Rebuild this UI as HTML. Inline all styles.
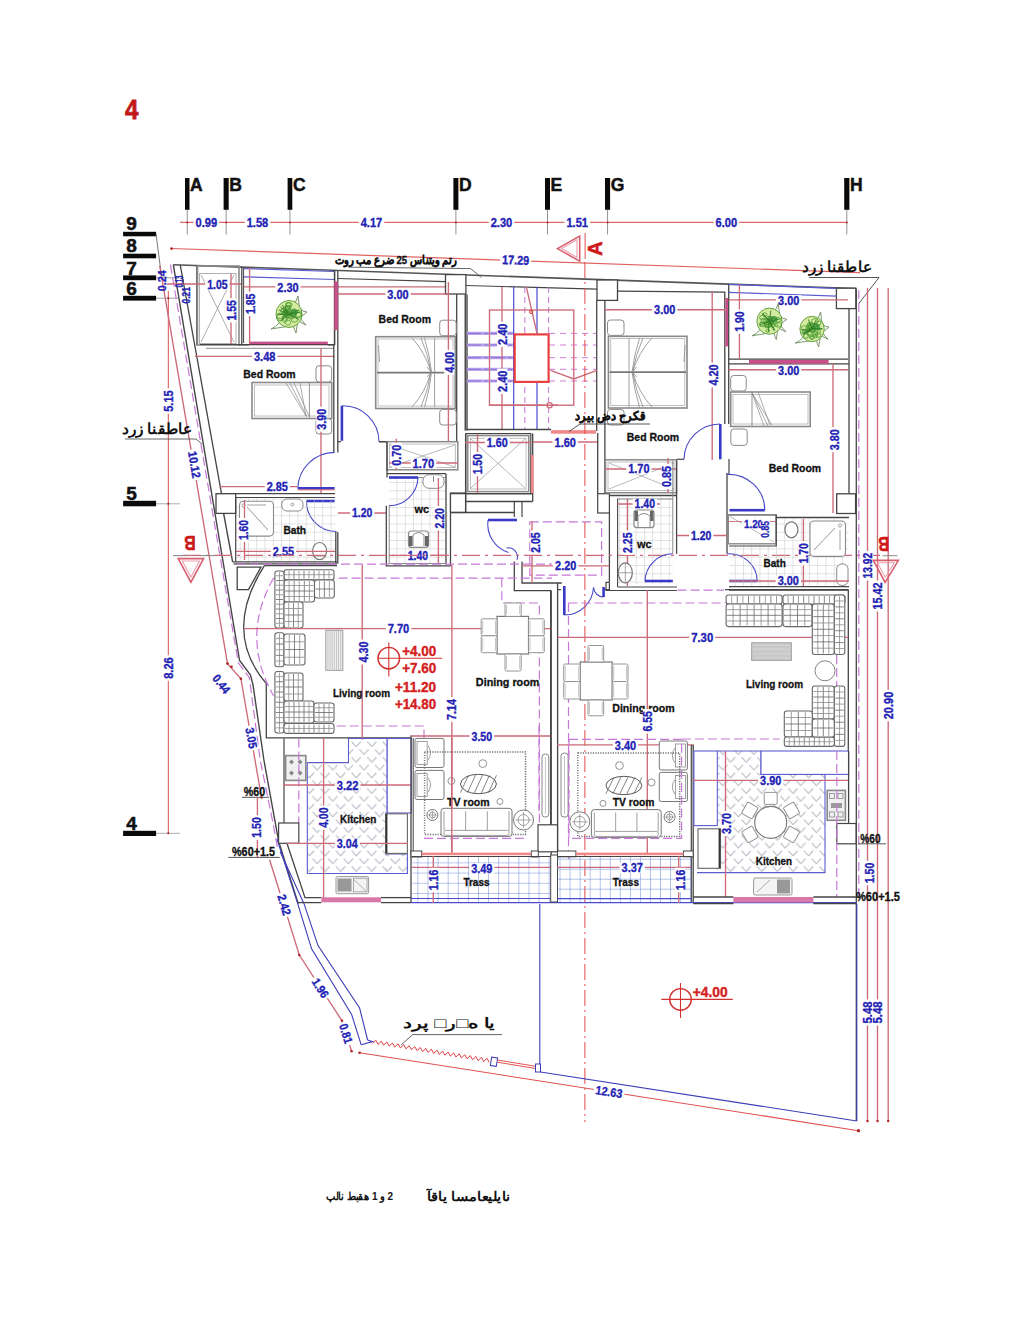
<!DOCTYPE html>
<html><head><meta charset="utf-8"><style>
html,body{margin:0;padding:0;background:#fff;}
svg{display:block;}
</style></head><body>
<svg width="1031" height="1321" viewBox="0 0 1031 1321">
<rect width="1031" height="1321" fill="#fff"/>
<defs>
<pattern id="tile" width="8.25" height="8.3" patternUnits="userSpaceOnUse" x="0.5" y="0.6"><path d="M0 0H8.25M0 0V8.3" stroke="#c6c6c6" stroke-width="1" fill="none"/></pattern>
<pattern id="trass" width="10.1" height="10.2" patternUnits="userSpaceOnUse" x="417.4" y="862.4"><path d="M0 0H10.1M0 0V10.2" stroke="#6a88d8" stroke-width="1" fill="none"/></pattern>
<pattern id="trass2" width="10.05" height="10" patternUnits="userSpaceOnUse" x="569.6" y="858.7"><path d="M0 0H10.05M0 0V10" stroke="#6a88d8" stroke-width="1" fill="none"/></pattern>
<pattern id="chev" width="15.6" height="15.6" patternUnits="userSpaceOnUse"><path d="M0.6 0.6L5.2 5.6L9.8 0.6M8.4 8.4L13 13.4L17.6 8.4M-7.2 8.4L-2.6 13.4L2 8.4" stroke="#b4b4c2" stroke-width="1.05" fill="none"/></pattern>
</defs>
<text x="125" y="119.1" font-family="Liberation Sans, sans-serif" font-size="27.6" font-weight="bold" fill="#c01818" text-anchor="start" textLength="13.4" lengthAdjust="spacingAndGlyphs" stroke="#c01818" stroke-width="0.77">4</text>
<rect x="185.0" y="178" width="4.5" height="31.8" fill="#0a0a0a"/>
<text x="190.1" y="191.3" font-family="Liberation Sans, sans-serif" font-size="17.5" font-weight="bold" fill="#111" text-anchor="start" stroke="#111" stroke-width="0.49">A</text>
<line x1="187.25" y1="209.8" x2="187.25" y2="234.5" stroke="#777" stroke-width="0.8"/>
<rect x="223.6" y="178" width="5.099999999999994" height="31.8" fill="#0a0a0a"/>
<text x="229.29999999999998" y="191.3" font-family="Liberation Sans, sans-serif" font-size="17.5" font-weight="bold" fill="#111" text-anchor="start" stroke="#111" stroke-width="0.49">B</text>
<line x1="226.14999999999998" y1="209.8" x2="226.14999999999998" y2="234.5" stroke="#777" stroke-width="0.8"/>
<rect x="287.6" y="178" width="4.699999999999989" height="31.8" fill="#0a0a0a"/>
<text x="292.90000000000003" y="191.3" font-family="Liberation Sans, sans-serif" font-size="17.5" font-weight="bold" fill="#111" text-anchor="start" stroke="#111" stroke-width="0.49">C</text>
<line x1="289.95000000000005" y1="209.8" x2="289.95000000000005" y2="234.5" stroke="#777" stroke-width="0.8"/>
<rect x="453.4" y="178" width="5.0" height="31.8" fill="#0a0a0a"/>
<text x="459.0" y="191.3" font-family="Liberation Sans, sans-serif" font-size="17.5" font-weight="bold" fill="#111" text-anchor="start" stroke="#111" stroke-width="0.49">D</text>
<line x1="455.9" y1="209.8" x2="455.9" y2="234.5" stroke="#777" stroke-width="0.8"/>
<rect x="545.0" y="178" width="5.0" height="31.8" fill="#0a0a0a"/>
<text x="550.6" y="191.3" font-family="Liberation Sans, sans-serif" font-size="17.5" font-weight="bold" fill="#111" text-anchor="start" stroke="#111" stroke-width="0.49">E</text>
<line x1="547.5" y1="209.8" x2="547.5" y2="234.5" stroke="#777" stroke-width="0.8"/>
<rect x="605.0" y="178" width="5.100000000000023" height="31.8" fill="#0a0a0a"/>
<text x="610.7" y="191.3" font-family="Liberation Sans, sans-serif" font-size="17.5" font-weight="bold" fill="#111" text-anchor="start" stroke="#111" stroke-width="0.49">G</text>
<line x1="607.55" y1="209.8" x2="607.55" y2="234.5" stroke="#777" stroke-width="0.8"/>
<rect x="844.2" y="178" width="5.199999999999932" height="31.8" fill="#0a0a0a"/>
<text x="850.0" y="191.3" font-family="Liberation Sans, sans-serif" font-size="17.5" font-weight="bold" fill="#111" text-anchor="start" stroke="#111" stroke-width="0.49">H</text>
<line x1="846.8" y1="209.8" x2="846.8" y2="234.5" stroke="#777" stroke-width="0.8"/>
<line x1="180" y1="222.4" x2="846.5" y2="222.4" stroke="#e06868" stroke-width="1.3"/>
<circle cx="187.25" cy="222.4" r="1" fill="#b03030"/>
<circle cx="226.14999999999998" cy="222.4" r="1" fill="#b03030"/>
<circle cx="289.95000000000005" cy="222.4" r="1" fill="#b03030"/>
<circle cx="455.9" cy="222.4" r="1" fill="#b03030"/>
<circle cx="547.5" cy="222.4" r="1" fill="#b03030"/>
<circle cx="607.55" cy="222.4" r="1" fill="#b03030"/>
<circle cx="846.8" cy="222.4" r="1" fill="#b03030"/>
<rect x="193.5" y="217.17600000000002" width="25.6" height="10.248" fill="#fff"/>
<text x="206.3" y="226.67" font-family="Liberation Sans, sans-serif" font-size="12.2" font-weight="bold" fill="#2222b4" text-anchor="middle" textLength="21.6" lengthAdjust="spacingAndGlyphs" stroke="#2222b4" stroke-width="0.34">0.99</text>
<rect x="244.7" y="217.17600000000002" width="25.6" height="10.248" fill="#fff"/>
<text x="257.5" y="226.67" font-family="Liberation Sans, sans-serif" font-size="12.2" font-weight="bold" fill="#2222b4" text-anchor="middle" textLength="21.6" lengthAdjust="spacingAndGlyphs" stroke="#2222b4" stroke-width="0.34">1.58</text>
<rect x="358.7" y="217.17600000000002" width="25.6" height="10.248" fill="#fff"/>
<text x="371.5" y="226.67" font-family="Liberation Sans, sans-serif" font-size="12.2" font-weight="bold" fill="#2222b4" text-anchor="middle" textLength="21.6" lengthAdjust="spacingAndGlyphs" stroke="#2222b4" stroke-width="0.34">4.17</text>
<rect x="488.7" y="217.17600000000002" width="25.6" height="10.248" fill="#fff"/>
<text x="501.5" y="226.67" font-family="Liberation Sans, sans-serif" font-size="12.2" font-weight="bold" fill="#2222b4" text-anchor="middle" textLength="21.6" lengthAdjust="spacingAndGlyphs" stroke="#2222b4" stroke-width="0.34">2.30</text>
<rect x="564.4000000000001" y="217.17600000000002" width="25.6" height="10.248" fill="#fff"/>
<text x="577.2" y="226.67" font-family="Liberation Sans, sans-serif" font-size="12.2" font-weight="bold" fill="#2222b4" text-anchor="middle" textLength="21.6" lengthAdjust="spacingAndGlyphs" stroke="#2222b4" stroke-width="0.34">1.51</text>
<rect x="713.6" y="217.17600000000002" width="25.6" height="10.248" fill="#fff"/>
<text x="726.4" y="226.67" font-family="Liberation Sans, sans-serif" font-size="12.2" font-weight="bold" fill="#2222b4" text-anchor="middle" textLength="21.6" lengthAdjust="spacingAndGlyphs" stroke="#2222b4" stroke-width="0.34">6.00</text>
<text x="126.3" y="230.2" font-family="Liberation Sans, sans-serif" font-size="19" font-weight="bold" fill="#111" text-anchor="start" stroke="#111" stroke-width="0.53">9</text>
<rect x="123.1" y="231.8" width="33" height="4.5" fill="#0a0a0a"/>
<text x="126.3" y="252.0" font-family="Liberation Sans, sans-serif" font-size="19" font-weight="bold" fill="#111" text-anchor="start" stroke="#111" stroke-width="0.53">8</text>
<rect x="123.1" y="253.7" width="33" height="4.6" fill="#0a0a0a"/>
<text x="126.3" y="274.5" font-family="Liberation Sans, sans-serif" font-size="19" font-weight="bold" fill="#111" text-anchor="start" stroke="#111" stroke-width="0.53">7</text>
<rect x="123.1" y="275.4" width="33" height="4.8" fill="#0a0a0a"/>
<text x="126.3" y="295.0" font-family="Liberation Sans, sans-serif" font-size="19" font-weight="bold" fill="#111" text-anchor="start" stroke="#111" stroke-width="0.53">6</text>
<rect x="123.1" y="295.8" width="33" height="4.8" fill="#0a0a0a"/>
<text x="126.3" y="499.6" font-family="Liberation Sans, sans-serif" font-size="19" font-weight="bold" fill="#111" text-anchor="start" stroke="#111" stroke-width="0.53">5</text>
<rect x="123.1" y="500.8" width="33" height="5.5" fill="#0a0a0a"/>
<text x="126.3" y="829.5" font-family="Liberation Sans, sans-serif" font-size="19" font-weight="bold" fill="#111" text-anchor="start" stroke="#111" stroke-width="0.53">4</text>
<rect x="123.1" y="830.8" width="33" height="5.2" fill="#0a0a0a"/>
<line x1="156" y1="277.8" x2="178" y2="277.8" stroke="#888" stroke-width="0.8"/>
<line x1="156" y1="298.2" x2="178" y2="298.2" stroke="#888" stroke-width="0.8"/>
<line x1="156" y1="503.8" x2="180" y2="503.8" stroke="#999" stroke-width="0.8"/>
<line x1="156" y1="833.3" x2="180" y2="833.3" stroke="#999" stroke-width="0.8"/>
<line x1="156" y1="234" x2="162" y2="280" stroke="#555" stroke-width="0.8"/>
<line x1="168.3" y1="291" x2="168.3" y2="833.3" stroke="#d85050" stroke-width="1"/>
<circle cx="168.3" cy="298.2" r="1" fill="#a02020"/>
<circle cx="168.3" cy="503.8" r="1" fill="#a02020"/>
<circle cx="168.3" cy="833.3" r="1" fill="#a02020"/>
<g transform="translate(168.3 401) rotate(-90)">
<rect x="-12.8" y="-5.124" width="25.6" height="10.248" fill="#fff"/>
<text x="0" y="4.37" font-family="Liberation Sans, sans-serif" font-size="12.2" font-weight="bold" fill="#2222b4" text-anchor="middle" textLength="21.6" lengthAdjust="spacingAndGlyphs" stroke="#2222b4" stroke-width="0.34">5.15</text>
</g>
<g transform="translate(168.3 668) rotate(-90)">
<rect x="-12.8" y="-5.124" width="25.6" height="10.248" fill="#fff"/>
<text x="0" y="4.37" font-family="Liberation Sans, sans-serif" font-size="12.2" font-weight="bold" fill="#2222b4" text-anchor="middle" textLength="21.6" lengthAdjust="spacingAndGlyphs" stroke="#2222b4" stroke-width="0.34">8.26</text>
</g>
<polygon points="557.4,248.6 579.7,236 579.7,261.2" stroke="#d86070" stroke-width="1.6" fill="none"/>
<polygon points="561.5,248.6 577,239.8 577,257.4" stroke="#f0a0b0" stroke-width="1.1" fill="none"/>
<line x1="585.1" y1="233" x2="585.1" y2="259" stroke="#e05050" stroke-width="1"/>
<text x="602.3" y="248.4" font-family="Liberation Sans, sans-serif" font-size="20" font-weight="bold" fill="#d01818" text-anchor="middle" transform="rotate(-90 602.3 248.4)" stroke="#d01818" stroke-width="0.56">A</text>
<line x1="171" y1="248.5" x2="860" y2="272.6" stroke="#e06060" stroke-width="1.2"/>
<circle cx="171.5" cy="248.6" r="1.3" fill="#b02020"/>
<g transform="rotate(2 515.6 260)">
<rect x="500.1" y="254.708" width="31" height="10.584" fill="#fff"/>
<text x="515.6" y="264.51" font-family="Liberation Sans, sans-serif" font-size="12.6" font-weight="bold" fill="#2222b4" text-anchor="middle" textLength="27" lengthAdjust="spacingAndGlyphs" stroke="#2222b4" stroke-width="0.35">17.29</text>
</g>
<polyline points="159.7,265.7 227.5,663.6 240.9,678.7 261.5,797.5" stroke="#cc6a78" stroke-width="1.35" fill="none"/>
<circle cx="261.5" cy="797.5" r="1.3" fill="#b02020"/>
<circle cx="227.5" cy="663.6" r="1.3" fill="#b02020"/>
<circle cx="231.5" cy="666.8" r="1.3" fill="#b02020"/>
<circle cx="240.9" cy="678.7" r="1.3" fill="#b02020"/>
<polyline points="269.6,859.7 299.3,955 342,1020.8 351.6,1051.3" stroke="#cc6a78" stroke-width="1.35" fill="none"/>
<circle cx="299.3" cy="955" r="1.2" fill="#b02020"/>
<circle cx="342" cy="1020.8" r="1.2" fill="#b02020"/>
<circle cx="351.6" cy="1051.3" r="1.2" fill="#b02020"/>
<polyline points="170.4,264.7 227.5,600 238.4,663 249.3,677.5 260.2,760 272.8,822 278,850.7" stroke="#c878d8" stroke-width="1.2" fill="none" stroke-dasharray="9 4"/>
<polyline points="173.3,264.7 239.6,660.5 250.5,675 253,684.8 263.9,760 278.6,841.2 298.2,903.7" stroke="#454545" stroke-width="1.4" fill="none"/>
<polyline points="180.2,264.7 221.5,493.7" stroke="#454545" stroke-width="1.3" fill="none"/>
<polyline points="223.6,513.4 232.6,561.8" stroke="#454545" stroke-width="1.4" fill="none"/>
<polyline points="277,839 297.7,903.7 311.6,948.8 351.6,1014.4 361.2,1044.8" stroke="#3c3cb8" stroke-width="1.1" fill="none"/>
<polyline points="280.2,851.8 304,903.7 318,945.6 359.6,1008 367.6,1040" stroke="#3c3cb8" stroke-width="1.1" fill="none"/>
<polyline points="361.2,1044.8 372.4,1041.6 367.6,1040" stroke="#3c3cb8" stroke-width="1.1" fill="none"/>
<polyline points="173.3,264.7 856,288.59" stroke="#555" stroke-width="1.6" fill="none"/>
<line x1="196.8" y1="265.5" x2="196.8" y2="345.2" stroke="#444" stroke-width="1.2"/>
<rect x="197.5" y="266" width="41.5" height="79" stroke="#8a8a8a" stroke-width="1.6" fill="none"/>
<rect x="199.5" y="273.5" width="36.5" height="70" stroke="#b0b0b0" stroke-width="1" fill="none"/>
<line x1="201" y1="275" x2="234" y2="342" stroke="#8a8a8a" stroke-width="0.7"/>
<line x1="234" y1="275" x2="201" y2="342" stroke="#8a8a8a" stroke-width="0.7"/>
<line x1="231" y1="274" x2="231" y2="344" stroke="#cc6a78" stroke-width="1.35"/>
<line x1="167" y1="284" x2="242" y2="284" stroke="#cc6a78" stroke-width="1.35"/>
<rect x="205.15" y="279.56" width="24.5" height="10.08" fill="#fff"/>
<text x="217.4" y="288.9" font-family="Liberation Sans, sans-serif" font-size="12" font-weight="bold" fill="#2222b4" text-anchor="middle" textLength="20.5" lengthAdjust="spacingAndGlyphs" stroke="#2222b4" stroke-width="0.34">1.05</text>
<g transform="translate(231.2 310.3) rotate(-90)">
<rect x="-12.25" y="-5.04" width="24.5" height="10.08" fill="#fff"/>
<text x="0" y="4.3" font-family="Liberation Sans, sans-serif" font-size="12" font-weight="bold" fill="#2222b4" text-anchor="middle" textLength="20.5" lengthAdjust="spacingAndGlyphs" stroke="#2222b4" stroke-width="0.34">1.55</text>
</g>
<g transform="translate(161.4 280.7) rotate(-90)">
<text x="0" y="4.12" font-family="Liberation Sans, sans-serif" font-size="11.5" font-weight="bold" fill="#2222b4" text-anchor="middle" textLength="21" lengthAdjust="spacingAndGlyphs" stroke="#2222b4" stroke-width="0.32">0.24</text>
</g>
<g transform="translate(179.3 281.5) rotate(-90)">
<text x="0" y="3.76" font-family="Liberation Sans, sans-serif" font-size="10.5" font-weight="bold" fill="#2222b4" text-anchor="middle" textLength="12" lengthAdjust="spacingAndGlyphs" stroke="#2222b4" stroke-width="0.29">0.13</text>
</g>
<g transform="translate(186 295.3) rotate(-90)">
<text x="0" y="3.94" font-family="Liberation Sans, sans-serif" font-size="11" font-weight="bold" fill="#2222b4" text-anchor="middle" textLength="16.5" lengthAdjust="spacingAndGlyphs" stroke="#2222b4" stroke-width="0.31">0.21</text>
</g>
<line x1="241.8" y1="266.5" x2="241.8" y2="345" stroke="#454545" stroke-width="1.3"/>
<line x1="243.6" y1="268" x2="243.6" y2="343" stroke="#454545" stroke-width="1"/>
<line x1="243.6" y1="268.6" x2="334" y2="271.5" stroke="#5a5ad0" stroke-width="1.2"/>
<line x1="243.6" y1="276.8" x2="334" y2="279.5" stroke="#5a5ad0" stroke-width="1.2"/>
<line x1="238.6" y1="345" x2="249.2" y2="345" stroke="#454545" stroke-width="1.3"/>
<rect x="249.2" y="341.6" width="78.6" height="3.8" fill="#c8508a"/>
<line x1="327.8" y1="345" x2="335" y2="345" stroke="#454545" stroke-width="1.3"/>
<rect x="334.6" y="282" width="3" height="47.5" fill="#c8508a"/>
<line x1="334.6" y1="270.5" x2="334.6" y2="345" stroke="#454545" stroke-width="1.3"/>
<line x1="249.6" y1="268" x2="249.6" y2="345" stroke="#cc6a78" stroke-width="1.35"/>
<line x1="243.6" y1="286.9" x2="460" y2="286.9" stroke="#cc6a78" stroke-width="1.35"/>
<rect x="275.35" y="282.676" width="25.3" height="10.248" fill="#fff"/>
<text x="288" y="292.17" font-family="Liberation Sans, sans-serif" font-size="12.2" font-weight="bold" fill="#2222b4" text-anchor="middle" textLength="21.3" lengthAdjust="spacingAndGlyphs" stroke="#2222b4" stroke-width="0.34">2.30</text>
<g transform="translate(250.2 303.8) rotate(-90)">
<rect x="-12.25" y="-5.04" width="24.5" height="10.08" fill="#fff"/>
<text x="0" y="4.3" font-family="Liberation Sans, sans-serif" font-size="12" font-weight="bold" fill="#2222b4" text-anchor="middle" textLength="20.5" lengthAdjust="spacingAndGlyphs" stroke="#2222b4" stroke-width="0.34">1.85</text>
</g>
<path d="M280.0 322.0 Q275.5 327.5 271.0 329.0 Q280.5 327.5 290.0 326.0" fill="#fafcf6" stroke="#6f8a60" stroke-width="0.9"/>
<path d="M294.0 304.0 Q296.0 302.0 298.0 296.0 Q299.0 304.0 300.0 312.0" fill="#fafcf6" stroke="#6f8a60" stroke-width="0.9"/>
<path d="M298.0 314.0 Q302.0 321.5 306.0 325.0 Q303.0 323.5 300.0 322.0" fill="#fafcf6" stroke="#6f8a60" stroke-width="0.9"/>
<path d="M293.0 324.0 Q294.5 330.5 296.0 333.0 Q297.0 326.5 298.0 320.0" fill="#fafcf6" stroke="#6f8a60" stroke-width="0.9"/>
<path d="M299.0 308.0 Q303.0 312.0 307.0 312.0 Q304.5 314.0 302.0 316.0" fill="#fafcf6" stroke="#6f8a60" stroke-width="0.9"/>
<ellipse cx="289.0" cy="314.0" rx="13.0" ry="13.5" fill="#d4eba0" stroke="#5a9a3a" stroke-width="0.9"/>
<path d="M285.4 315.5a3.3 2.6 0 1 0 6.6 0a3.3 2.6 0 1 0 -6.6 0M276.7 317.1a3.6 2.8 0 1 0 7.1 0a3.6 2.8 0 1 0 -7.1 0M285.5 307.7a2.6 2.1 0 1 0 5.3 0a2.6 2.1 0 1 0 -5.3 0M285.2 313.6a2.6 2.1 0 1 0 5.2 0a2.6 2.1 0 1 0 -5.2 0M276.7 315.9a3.4 2.7 0 1 0 6.9 0a3.4 2.7 0 1 0 -6.9 0M285.4 307.5a2.5 2.0 0 1 0 5.1 0a2.5 2.0 0 1 0 -5.1 0M282.8 313.1a2.8 2.2 0 1 0 5.6 0a2.8 2.2 0 1 0 -5.6 0M286.1 305.0a3.0 2.4 0 1 0 6.0 0a3.0 2.4 0 1 0 -6.0 0M280.6 310.6a3.0 2.4 0 1 0 6.0 0a3.0 2.4 0 1 0 -6.0 0M282.8 309.0a3.3 2.7 0 1 0 6.6 0a3.3 2.7 0 1 0 -6.6 0M294.4 315.2a3.5 2.8 0 1 0 7.1 0a3.5 2.8 0 1 0 -7.1 0M282.9 313.7a3.6 2.9 0 1 0 7.1 0a3.6 2.9 0 1 0 -7.1 0M285.3 322.6a2.7 2.1 0 1 0 5.3 0a2.7 2.1 0 1 0 -5.3 0M291.2 319.5a3.2 2.6 0 1 0 6.5 0a3.2 2.6 0 1 0 -6.5 0M284.2 314.2a3.6 2.8 0 1 0 7.1 0a3.6 2.8 0 1 0 -7.1 0M295.4 313.9a3.1 2.5 0 1 0 6.1 0a3.1 2.5 0 1 0 -6.1 0M284.6 310.0a2.9 2.3 0 1 0 5.8 0a2.9 2.3 0 1 0 -5.8 0M290.2 314.8a2.9 2.4 0 1 0 5.9 0a2.9 2.4 0 1 0 -5.9 0M288.6 317.0a2.6 2.1 0 1 0 5.3 0a2.6 2.1 0 1 0 -5.3 0M285.6 305.0a2.5 2.0 0 1 0 4.9 0a2.5 2.0 0 1 0 -4.9 0M282.3 318.0a2.4 1.9 0 1 0 4.7 0a2.4 1.9 0 1 0 -4.7 0M283.2 312.2a2.6 2.1 0 1 0 5.3 0a2.6 2.1 0 1 0 -5.3 0M282.1 319.8a2.6 2.0 0 1 0 5.1 0a2.6 2.0 0 1 0 -5.1 0M284.8 314.1a2.1 1.7 0 1 0 4.2 0a2.1 1.7 0 1 0 -4.2 0M290.4 313.3a3.0 2.4 0 1 0 5.9 0a3.0 2.4 0 1 0 -5.9 0M284.8 311.9a3.4 2.7 0 1 0 6.8 0a3.4 2.7 0 1 0 -6.8 0" fill="none" stroke="#4a9a30" stroke-width="0.8"/>
<path d="M289.0 314.0L278.0 314.8M289.0 314.0L298.5 319.6M289.0 314.0L299.9 312.4M289.0 314.0L280.5 321.0M289.0 314.0L278.8 310.0M289.0 314.0L280.4 307.1M289.0 314.0L282.3 305.2M289.0 314.0L299.2 309.8" fill="none" stroke="#2f7a25" stroke-width="0.9"/>
<circle cx="294.0" cy="312.0" r="3.5" fill="#2f8a30" opacity="0.7"/>
<line x1="200" y1="344.5" x2="334" y2="344.5" stroke="#454545" stroke-width="1.2"/>
<line x1="206" y1="348.3" x2="334" y2="348.3" stroke="#8a8a8a" stroke-width="1"/>
<line x1="194.9" y1="356.3" x2="334.6" y2="356.3" stroke="#cc6a78" stroke-width="1.35"/>
<rect x="252.0" y="351.57599999999996" width="25.4" height="10.248" fill="#fff"/>
<text x="264.7" y="361.07" font-family="Liberation Sans, sans-serif" font-size="12.2" font-weight="bold" fill="#2222b4" text-anchor="middle" textLength="21.4" lengthAdjust="spacingAndGlyphs" stroke="#2222b4" stroke-width="0.34">3.48</text>
<text x="269.5" y="378" font-family="Liberation Sans, sans-serif" font-size="11.8" font-weight="bold" fill="#111" text-anchor="middle" textLength="52.4" lengthAdjust="spacingAndGlyphs" stroke="#111" stroke-width="0.33">Bed Room</text>
<rect x="252" y="382.5" width="79.7" height="36" stroke="#8a8a8a" stroke-width="1.6" fill="none"/>
<rect x="254.5" y="385" width="74.5" height="31" stroke="#b0b0b0" stroke-width="0.8" fill="none"/>
<line x1="309.4" y1="383" x2="309.4" y2="418" stroke="#8a8a8a" stroke-width="0.9"/>
<path d="M286 383 L306 416 M290 383 L307 417 M294 383 L309 416 M300 383 L306 416" stroke="#8a8a8a" stroke-width="0.7" fill="none"/>
<rect x="316" y="365.8" width="15.7" height="16.2" stroke="#8a8a8a" stroke-width="1" fill="#fff" rx="3"/>
<rect x="316" y="418.8" width="15.7" height="15.2" stroke="#8a8a8a" stroke-width="1" fill="#fff" rx="3"/>
<line x1="321" y1="348" x2="321" y2="493" stroke="#cc6a78" stroke-width="1.35"/>
<g transform="translate(321.4 419.2) rotate(-90)">
<rect x="-12.5" y="-5.04" width="25" height="10.08" fill="#fff"/>
<text x="0" y="4.3" font-family="Liberation Sans, sans-serif" font-size="12" font-weight="bold" fill="#2222b4" text-anchor="middle" textLength="21" lengthAdjust="spacingAndGlyphs" stroke="#2222b4" stroke-width="0.34">3.90</text>
</g>
<line x1="333.8" y1="344.5" x2="333.8" y2="452.4" stroke="#454545" stroke-width="1.3"/>
<line x1="337.8" y1="270.7" x2="337.8" y2="452.4" stroke="#454545" stroke-width="1.3"/>
<line x1="334.5" y1="270.7" x2="334.5" y2="344.5" stroke="#454545" stroke-width="1.3"/>
<polyline points="337.8,278.5 445.5,281.6" stroke="#454545" stroke-width="1.2" fill="none"/>
<rect x="334.3" y="281.4" width="3.6" height="48.6" fill="#c8508a"/>
<rect x="445.5" y="274.6" width="20.4" height="19.4" stroke="#454545" stroke-width="1.3" fill="#fff"/>
<line x1="456.7" y1="294" x2="456.7" y2="441.7" stroke="#454545" stroke-width="1.3"/>
<line x1="465.9" y1="294" x2="465.9" y2="430.4" stroke="#454545" stroke-width="1.3"/>
<line x1="337.8" y1="294" x2="447.4" y2="294" stroke="#cc6a78" stroke-width="1.35"/>
<rect x="385.35" y="289.376" width="25.3" height="10.248" fill="#fff"/>
<text x="398" y="298.87" font-family="Liberation Sans, sans-serif" font-size="12.2" font-weight="bold" fill="#2222b4" text-anchor="middle" textLength="21.3" lengthAdjust="spacingAndGlyphs" stroke="#2222b4" stroke-width="0.34">3.00</text>
<text x="404.8" y="323.1" font-family="Liberation Sans, sans-serif" font-size="11.8" font-weight="bold" fill="#111" text-anchor="middle" textLength="52.4" lengthAdjust="spacingAndGlyphs" stroke="#111" stroke-width="0.33">Bed Room</text>
<rect x="375.7" y="336.7" width="79.5" height="71.8" stroke="#8a8a8a" stroke-width="1.6" fill="none"/>
<rect x="378" y="339" width="75" height="67" stroke="#b0b0b0" stroke-width="0.8" fill="none"/>
<line x1="377" y1="372.6" x2="454.5" y2="372.6" stroke="#777" stroke-width="1.7"/>
<line x1="434.6" y1="338" x2="434.6" y2="407" stroke="#8a8a8a" stroke-width="0.8"/>
<path d="M412 338 Q425 352 431 372 M421 338 Q428 354 431 372 M424.5 338 Q430 356 431.5 372 M412 407 Q425 393 431 372 M421 407 Q428 391 431 372 M424.5 407 Q430 389 431.5 372 M378.5 345 L379.5 362 M427 367 L431 372 L427 377" stroke="#8a8a8a" stroke-width="0.8" fill="none"/>
<rect x="439.7" y="320.2" width="16.5" height="15.5" stroke="#8a8a8a" stroke-width="1" fill="#fff" rx="3"/>
<rect x="439.7" y="409.4" width="16.5" height="15.6" stroke="#8a8a8a" stroke-width="1" fill="#fff" rx="3"/>
<line x1="448.4" y1="282" x2="448.4" y2="441" stroke="#cc6a78" stroke-width="1.35"/>
<g transform="translate(449.3 362.3) rotate(-90)">
<rect x="-12.5" y="-5.04" width="25" height="10.08" fill="#fff"/>
<text x="0" y="4.3" font-family="Liberation Sans, sans-serif" font-size="12" font-weight="bold" fill="#2222b4" text-anchor="middle" textLength="21" lengthAdjust="spacingAndGlyphs" stroke="#2222b4" stroke-width="0.34">4.00</text>
</g>
<rect x="340.6" y="405.8" width="2.6" height="35" fill="#3a3ac8"/>
<path d="M342.4 405.8 A36 36 0 0 1 379 441.7" stroke="#4848c8" stroke-width="1.1" fill="none"/>
<line x1="337.8" y1="441.7" x2="341" y2="441.7" stroke="#454545" stroke-width="1.2"/>
<line x1="379" y1="441.7" x2="387" y2="441.7" stroke="#454545" stroke-width="1.2"/>
<rect x="297.8" y="487" width="36.8" height="2.6" fill="#3a3ac8"/>
<path d="M297.8 488.3 A37 37 0 0 1 334.6 452.4" stroke="#4848c8" stroke-width="1.1" fill="none"/>
<line x1="297.8" y1="489.9" x2="334.6" y2="489.9" stroke="#e06060" stroke-width="0.9"/>
<rect x="306.5" y="499.7" width="28.1" height="2.6" fill="#3a3ac8"/>
<path d="M306.5 500.9 A30 30 0 0 0 336.6 531.5" stroke="#4848c8" stroke-width="1.1" fill="none"/>
<line x1="219.8" y1="486.6" x2="297" y2="486.6" stroke="#cc6a78" stroke-width="1.35"/>
<rect x="264.65000000000003" y="481.376" width="25.3" height="10.248" fill="#fff"/>
<text x="277.3" y="490.87" font-family="Liberation Sans, sans-serif" font-size="12.2" font-weight="bold" fill="#2222b4" text-anchor="middle" textLength="21.3" lengthAdjust="spacingAndGlyphs" stroke="#2222b4" stroke-width="0.34">2.85</text>
<line x1="216" y1="493.7" x2="335" y2="493.7" stroke="#454545" stroke-width="1.3"/>
<line x1="235.7" y1="497.5" x2="335" y2="497.5" stroke="#454545" stroke-width="1.2"/>
<rect x="216" y="493.7" width="19.7" height="19.7" stroke="#454545" stroke-width="1.3" fill="#fff"/>
<rect x="236.5" y="498.5" width="99" height="63" fill="url(#tile)"/>
<line x1="235.7" y1="497.5" x2="235.7" y2="561.8" stroke="#454545" stroke-width="1.2"/>
<line x1="232.6" y1="561.8" x2="337" y2="561.8" stroke="#454545" stroke-width="1.2"/>
<line x1="233.5" y1="563.8" x2="337" y2="563.8" stroke="#454545" stroke-width="1.2"/>
<line x1="335.8" y1="532" x2="335.8" y2="563.8" stroke="#454545" stroke-width="1.3"/>
<line x1="337.8" y1="532" x2="337.8" y2="563.8" stroke="#454545" stroke-width="1.3"/>
<rect x="239.5" y="501.3" width="34" height="34.8" stroke="#8a8a8a" stroke-width="1.1" fill="#fff" rx="4"/>
<line x1="247" y1="507" x2="268" y2="530" stroke="#8a8a8a" stroke-width="0.9"/>
<circle cx="243.5" cy="505.5" r="1.6" stroke="#8a8a8a" stroke-width="0.8" fill="none"/>
<line x1="247" y1="505" x2="266" y2="505" stroke="#8a8a8a" stroke-width="0.8"/>
<rect x="281.8" y="499" width="21.2" height="12" stroke="#8a8a8a" stroke-width="1" fill="#fff" rx="5"/>
<circle cx="292.4" cy="504.5" r="1.5" stroke="#8a8a8a" stroke-width="0.8" fill="none"/>
<ellipse cx="319.6" cy="551" rx="7" ry="8.5" stroke="#777" stroke-width="1.2" fill="#fff"/>
<line x1="312.6" y1="556" x2="326.6" y2="556" stroke="#8a8a8a" stroke-width="1"/>
<line x1="244.5" y1="500" x2="244.5" y2="560" stroke="#cc6a78" stroke-width="1.35"/>
<g transform="translate(243.6 530) rotate(-90)">
<rect x="-12.0" y="-5.04" width="24" height="10.08" fill="#fff"/>
<text x="0" y="4.3" font-family="Liberation Sans, sans-serif" font-size="12" font-weight="bold" fill="#2222b4" text-anchor="middle" textLength="20" lengthAdjust="spacingAndGlyphs" stroke="#2222b4" stroke-width="0.34">1.60</text>
</g>
<text x="294.7" y="533.8" font-family="Liberation Sans, sans-serif" font-size="11.5" font-weight="bold" fill="#111" text-anchor="middle" textLength="22.6" lengthAdjust="spacingAndGlyphs" stroke="#111" stroke-width="0.32">Bath</text>
<line x1="236" y1="551.3" x2="335" y2="551.3" stroke="#cc6a78" stroke-width="1.35"/>
<rect x="270.79999999999995" y="546.1759999999999" width="25.2" height="10.248" fill="#fff"/>
<text x="283.4" y="555.67" font-family="Liberation Sans, sans-serif" font-size="12.2" font-weight="bold" fill="#2222b4" text-anchor="middle" textLength="21.2" lengthAdjust="spacingAndGlyphs" stroke="#2222b4" stroke-width="0.34">2.55</text>
<line x1="338" y1="513" x2="386" y2="513" stroke="#cc6a78" stroke-width="1.35"/>
<rect x="350.0" y="507.876" width="24.4" height="10.248" fill="#fff"/>
<text x="362.2" y="517.37" font-family="Liberation Sans, sans-serif" font-size="12.2" font-weight="bold" fill="#2222b4" text-anchor="middle" textLength="20.4" lengthAdjust="spacingAndGlyphs" stroke="#2222b4" stroke-width="0.34">1.20</text>
<line x1="379" y1="441.7" x2="387" y2="441.7" stroke="#454545" stroke-width="1.2"/>
<rect x="387" y="441.7" width="70.8" height="28.1" stroke="#8a8a8a" stroke-width="1.5" fill="none"/>
<rect x="389.5" y="444" width="65.8" height="23.5" stroke="#b0b0b0" stroke-width="0.8" fill="none"/>
<line x1="390" y1="445" x2="455" y2="467" stroke="#8a8a8a" stroke-width="0.6"/>
<line x1="455" y1="445" x2="390" y2="467" stroke="#8a8a8a" stroke-width="0.6"/>
<line x1="387" y1="441.7" x2="387" y2="477.6" stroke="#454545" stroke-width="1.3"/>
<line x1="396.3" y1="438.8" x2="396.3" y2="469.8" stroke="#cc6a78" stroke-width="1.35"/>
<line x1="389" y1="463" x2="458" y2="463" stroke="#cc6a78" stroke-width="1.35"/>
<g transform="translate(396.6 455.3) rotate(-90)">
<rect x="-12.5" y="-5.04" width="25" height="10.08" fill="#fff"/>
<text x="0" y="4.3" font-family="Liberation Sans, sans-serif" font-size="12" font-weight="bold" fill="#2222b4" text-anchor="middle" textLength="21" lengthAdjust="spacingAndGlyphs" stroke="#2222b4" stroke-width="0.34">0.70</text>
</g>
<rect x="410.59999999999997" y="458.376" width="25.6" height="10.248" fill="#fff"/>
<text x="423.4" y="467.87" font-family="Liberation Sans, sans-serif" font-size="12.2" font-weight="bold" fill="#2222b4" text-anchor="middle" textLength="21.6" lengthAdjust="spacingAndGlyphs" stroke="#2222b4" stroke-width="0.34">1.70</text>
<rect x="389.5" y="478" width="56.5" height="86" fill="url(#tile)"/>
<line x1="387" y1="473.7" x2="446" y2="473.7" stroke="#454545" stroke-width="1.3"/>
<line x1="389" y1="477.6" x2="446" y2="477.6" stroke="#8a8a8a" stroke-width="1"/>
<polyline points="386.3,505.7 386.3,565.9 450.5,565.9" stroke="#454545" stroke-width="1.3" fill="none"/>
<polyline points="389.2,505.7 389.2,563.5 446,563.5" stroke="#8a8a8a" stroke-width="1" fill="none"/>
<line x1="446" y1="473.7" x2="446" y2="563.5" stroke="#454545" stroke-width="1.3"/>
<line x1="450.5" y1="493" x2="450.5" y2="565.9" stroke="#454545" stroke-width="1.3"/>
<rect x="389" y="476.2" width="29" height="2.6" fill="#3a3ac8"/>
<path d="M418 477.6 A29 29 0 0 1 389 505.7" stroke="#4848c8" stroke-width="1.1" fill="none"/>
<rect x="423" y="474.7" width="21" height="13.6" stroke="#8a8a8a" stroke-width="1" fill="#fff" rx="6"/>
<line x1="433.5" y1="476" x2="433.5" y2="482" stroke="#8a8a8a" stroke-width="1"/>
<rect x="408.5" y="531" width="20" height="16.4" stroke="#8a8a8a" stroke-width="1.2" fill="#fff" rx="3"/>
<rect x="409" y="536" width="3.5" height="10" fill="#666"/>
<rect x="425" y="536" width="3.5" height="10" fill="#666"/>
<path d="M413 546 L413 535 Q418.5 530 424 535 L424 546" stroke="#8a8a8a" stroke-width="1" fill="none"/>
<text x="421.8" y="513.3" font-family="Liberation Sans, sans-serif" font-size="11" font-weight="bold" fill="#111" text-anchor="middle" stroke="#111" stroke-width="0.31">wc</text>
<line x1="438.4" y1="478" x2="438.4" y2="564" stroke="#cc6a78" stroke-width="1.35"/>
<line x1="389" y1="555.4" x2="446" y2="555.4" stroke="#cc6a78" stroke-width="1.35"/>
<rect x="405.8" y="550.476" width="24.4" height="10.248" fill="#fff"/>
<text x="418" y="559.97" font-family="Liberation Sans, sans-serif" font-size="12.2" font-weight="bold" fill="#2222b4" text-anchor="middle" textLength="20.4" lengthAdjust="spacingAndGlyphs" stroke="#2222b4" stroke-width="0.34">1.40</text>
<g transform="translate(439.4 518.3) rotate(-90)">
<rect x="-12.25" y="-5.04" width="24.5" height="10.08" fill="#fff"/>
<text x="0" y="4.3" font-family="Liberation Sans, sans-serif" font-size="12" font-weight="bold" fill="#2222b4" text-anchor="middle" textLength="20.5" lengthAdjust="spacingAndGlyphs" stroke="#2222b4" stroke-width="0.34">2.20</text>
</g>
<rect x="450.5" y="493" width="15.2" height="19.5" stroke="#454545" stroke-width="1.2" fill="#fff"/>
<line x1="465.6" y1="434" x2="465.6" y2="512.5" stroke="#454545" stroke-width="1.3"/>
<line x1="465.2" y1="294.6" x2="465.2" y2="430.4" stroke="#454545" stroke-width="1.3"/>
<line x1="467.2" y1="294.6" x2="467.2" y2="430.4" stroke="#454545" stroke-width="1.0"/>
<line x1="596.7" y1="300.4" x2="596.7" y2="431" stroke="#454545" stroke-width="1.3"/>
<line x1="604.9" y1="300.4" x2="604.9" y2="493.7" stroke="#454545" stroke-width="1.3"/>
<line x1="466" y1="285.5" x2="597" y2="289.2" stroke="#454545" stroke-width="1.2"/>
<rect x="597" y="280" width="20.5" height="20.4" stroke="#454545" stroke-width="1.3" fill="#fff"/>
<line x1="467" y1="333.4" x2="514" y2="333.4" stroke="#b8a4ec" stroke-width="3.2"/>
<line x1="467" y1="333.4" x2="514" y2="333.4" stroke="#8a6ad8" stroke-width="0.9" stroke-dasharray="14 3 4 3"/>
<line x1="549" y1="333.4" x2="596" y2="333.4" stroke="#d47ad8" stroke-width="1" stroke-dasharray="6 5"/>
<line x1="467" y1="345" x2="514" y2="345" stroke="#b8a4ec" stroke-width="3.2"/>
<line x1="467" y1="345" x2="514" y2="345" stroke="#8a6ad8" stroke-width="0.9" stroke-dasharray="14 3 4 3"/>
<line x1="549" y1="345" x2="596" y2="345" stroke="#d47ad8" stroke-width="1" stroke-dasharray="6 5"/>
<line x1="467" y1="357.7" x2="514" y2="357.7" stroke="#b8a4ec" stroke-width="3.2"/>
<line x1="467" y1="357.7" x2="514" y2="357.7" stroke="#8a6ad8" stroke-width="0.9" stroke-dasharray="14 3 4 3"/>
<line x1="549" y1="357.7" x2="596" y2="357.7" stroke="#d47ad8" stroke-width="1" stroke-dasharray="6 5"/>
<line x1="467" y1="369.3" x2="514" y2="369.3" stroke="#b8a4ec" stroke-width="3.2"/>
<line x1="467" y1="369.3" x2="514" y2="369.3" stroke="#8a6ad8" stroke-width="0.9" stroke-dasharray="14 3 4 3"/>
<line x1="549" y1="369.3" x2="596" y2="369.3" stroke="#d47ad8" stroke-width="1" stroke-dasharray="6 5"/>
<line x1="467" y1="381" x2="514" y2="381" stroke="#b8a4ec" stroke-width="3.2"/>
<line x1="467" y1="381" x2="514" y2="381" stroke="#8a6ad8" stroke-width="0.9" stroke-dasharray="14 3 4 3"/>
<line x1="549" y1="381" x2="596" y2="381" stroke="#d47ad8" stroke-width="1" stroke-dasharray="6 5"/>
<line x1="513.7" y1="287" x2="513.7" y2="429" stroke="#3a3ad0" stroke-width="1.1"/>
<line x1="524.8" y1="287" x2="524.8" y2="429" stroke="#c878d8" stroke-width="1" stroke-dasharray="6 4"/>
<line x1="537" y1="287" x2="537" y2="429" stroke="#3a3ad0" stroke-width="1.1"/>
<line x1="548.6" y1="287" x2="548.6" y2="429" stroke="#c878d8" stroke-width="1" stroke-dasharray="6 4"/>
<rect x="489.5" y="310" width="84.3" height="95.2" stroke="#cc6a78" stroke-width="1.35" fill="none"/>
<line x1="502" y1="287" x2="502" y2="429" stroke="#cc6a78" stroke-width="1.35"/>
<rect x="514.7" y="334.4" width="33.9" height="47.5" stroke="#e84040" stroke-width="2.2" fill="#fff"/>
<polyline points="526.3,286.9 537,333.4" stroke="#cc6a78" stroke-width="1.35" fill="none"/>
<circle cx="531.2" cy="312" r="1.6" fill="none" stroke="#d03030"/>
<polyline points="550.6,370.3 573.8,379 597,370.3" stroke="#cc6a78" stroke-width="1.35" fill="none"/>
<circle cx="549.6" cy="405.2" r="2.6" stroke="#cc6a78" stroke-width="1.35" fill="#fff"/>
<line x1="489.5" y1="405.2" x2="558" y2="405.2" stroke="#cc6a78" stroke-width="1.35"/>
<g transform="translate(502.2 334.3) rotate(-90)">
<rect x="-12.65" y="-5.124" width="25.3" height="10.248" fill="#fff"/>
<text x="0" y="4.37" font-family="Liberation Sans, sans-serif" font-size="12.2" font-weight="bold" fill="#2222b4" text-anchor="middle" textLength="21.3" lengthAdjust="spacingAndGlyphs" stroke="#2222b4" stroke-width="0.34">2.40</text>
</g>
<g transform="translate(502.2 381.3) rotate(-90)">
<rect x="-12.65" y="-5.124" width="25.3" height="10.248" fill="#fff"/>
<text x="0" y="4.37" font-family="Liberation Sans, sans-serif" font-size="12.2" font-weight="bold" fill="#2222b4" text-anchor="middle" textLength="21.3" lengthAdjust="spacingAndGlyphs" stroke="#2222b4" stroke-width="0.34">2.40</text>
</g>
<line x1="466" y1="429.5" x2="551" y2="429.5" stroke="#454545" stroke-width="1.3"/>
<rect x="551" y="430.2" width="45" height="3.5" fill="#f08888"/>
<rect x="465.8" y="433.6" width="65" height="60.1" stroke="#454545" stroke-width="1.2" fill="none"/>
<rect x="467.8" y="435.6" width="61" height="56" stroke="#8a8a8a" stroke-width="1.5" fill="none"/>
<rect x="470.5" y="438.3" width="55.6" height="50.7" stroke="#b0b0b0" stroke-width="0.8" fill="none"/>
<line x1="471" y1="439" x2="525" y2="488" stroke="#8a8a8a" stroke-width="0.6"/>
<line x1="525" y1="439" x2="471" y2="488" stroke="#8a8a8a" stroke-width="0.6"/>
<line x1="465" y1="442.5" x2="531" y2="442.5" stroke="#cc6a78" stroke-width="1.35"/>
<line x1="477.5" y1="434" x2="477.5" y2="493" stroke="#cc6a78" stroke-width="1.35"/>
<rect x="484.8" y="437.676" width="25" height="10.248" fill="#fff"/>
<text x="497.3" y="447.17" font-family="Liberation Sans, sans-serif" font-size="12.2" font-weight="bold" fill="#2222b4" text-anchor="middle" textLength="21" lengthAdjust="spacingAndGlyphs" stroke="#2222b4" stroke-width="0.34">1.60</text>
<g transform="translate(478 464.2) rotate(-90)">
<rect x="-12.15" y="-5.04" width="24.3" height="10.08" fill="#fff"/>
<text x="0" y="4.3" font-family="Liberation Sans, sans-serif" font-size="12" font-weight="bold" fill="#2222b4" text-anchor="middle" textLength="20.3" lengthAdjust="spacingAndGlyphs" stroke="#2222b4" stroke-width="0.34">1.50</text>
</g>
<line x1="532.7" y1="433.6" x2="532.7" y2="501.5" stroke="#454545" stroke-width="1.3"/>
<rect x="531" y="455" width="2.6" height="39" fill="#f08888"/>
<line x1="533" y1="442" x2="598" y2="442" stroke="#cc6a78" stroke-width="1.35"/>
<rect x="552.5500000000001" y="437.57599999999996" width="25.3" height="10.248" fill="#fff"/>
<text x="565.2" y="447.07" font-family="Liberation Sans, sans-serif" font-size="12.2" font-weight="bold" fill="#2222b4" text-anchor="middle" textLength="21.3" lengthAdjust="spacingAndGlyphs" stroke="#2222b4" stroke-width="0.34">1.60</text>
<line x1="450.5" y1="493.7" x2="532.7" y2="493.7" stroke="#454545" stroke-width="1.3"/>
<line x1="465.6" y1="501.5" x2="532.7" y2="501.5" stroke="#454545" stroke-width="1.3"/>
<line x1="450.5" y1="512.5" x2="514.3" y2="512.5" stroke="#454545" stroke-width="1.3"/>
<line x1="514.3" y1="501.5" x2="514.3" y2="517" stroke="#454545" stroke-width="1.2"/>
<line x1="522" y1="501.5" x2="522" y2="517" stroke="#454545" stroke-width="1.2"/>
<rect x="488" y="518.7" width="29" height="2.6" fill="#3a3ac8"/>
<path d="M488 520 A30 30 0 0 0 508.5 552.5" stroke="#4848c8" stroke-width="1.1" fill="none"/>
<path d="M506.5 548 A9 9 0 0 1 517 559.7" stroke="#4848c8" stroke-width="1.1" fill="none"/>
<line x1="597.7" y1="433" x2="597.7" y2="493.7" stroke="#454545" stroke-width="1.3"/>
<rect x="597.7" y="493.7" width="11.7" height="19.3" stroke="#454545" stroke-width="1.2" fill="#fff"/>
<line x1="609.4" y1="513" x2="609.4" y2="582.4" stroke="#454545" stroke-width="1.3"/>
<polyline points="514.3,561.6 514.3,590.7 551.2,590.7" stroke="#454545" stroke-width="1.3" fill="none"/>
<polyline points="522,561.6 522,583 561.8,583" stroke="#454545" stroke-width="1.3" fill="none"/>
<line x1="551.2" y1="590.7" x2="551.2" y2="858" stroke="#454545" stroke-width="1.3"/>
<line x1="557.6" y1="583" x2="557.6" y2="858" stroke="#454545" stroke-width="1.3"/>
<rect x="529.8" y="521.8" width="71.8" height="53.4" stroke="#c878d8" stroke-width="1.2" fill="none" stroke-dasharray="9 4"/>
<line x1="532" y1="521" x2="532" y2="583" stroke="#cc6a78" stroke-width="1.35"/>
<g transform="translate(535.6 542.6) rotate(-90)">
<rect x="-12.2" y="-5.04" width="24.4" height="10.08" fill="#fff"/>
<text x="0" y="4.3" font-family="Liberation Sans, sans-serif" font-size="12" font-weight="bold" fill="#2222b4" text-anchor="middle" textLength="20.4" lengthAdjust="spacingAndGlyphs" stroke="#2222b4" stroke-width="0.34">2.05</text>
</g>
<line x1="522" y1="565.9" x2="609" y2="565.9" stroke="#cc6a78" stroke-width="1.35"/>
<rect x="553.0500000000001" y="560.876" width="25.3" height="10.248" fill="#fff"/>
<text x="565.7" y="570.37" font-family="Liberation Sans, sans-serif" font-size="12.2" font-weight="bold" fill="#2222b4" text-anchor="middle" textLength="21.3" lengthAdjust="spacingAndGlyphs" stroke="#2222b4" stroke-width="0.34">2.20</text>
<rect x="563" y="586" width="2.6" height="29" fill="#3a3ac8"/>
<path d="M564.3 615 A29 29 0 0 0 593.5 587.5" stroke="#4848c8" stroke-width="1.1" fill="none"/>
<rect x="602.3" y="587" width="2.6" height="10" fill="#3a3ac8"/>
<path d="M603.6 597 A10 10 0 0 1 593.6 587.5" stroke="#4848c8" stroke-width="1.1" fill="none"/>
<line x1="584.9" y1="262" x2="584.9" y2="1122" stroke="#e04848" stroke-width="1" stroke-dasharray="16 4 2 4"/>
<line x1="183" y1="555.3" x2="880" y2="555.3" stroke="#cc6a78" stroke-width="1.35" stroke-dasharray="18 5 3 5"/>
<line x1="617.5" y1="291.2" x2="724.8" y2="292.2" stroke="#454545" stroke-width="1.2"/>
<line x1="724.8" y1="291.7" x2="724.8" y2="424" stroke="#454545" stroke-width="1.3"/>
<line x1="728.7" y1="284" x2="728.7" y2="424" stroke="#454545" stroke-width="1.3"/>
<rect x="725.4" y="298" width="2.6" height="48.4" fill="#c8508a"/>
<line x1="604.5" y1="309.7" x2="725" y2="309.7" stroke="#cc6a78" stroke-width="1.35"/>
<rect x="652.0500000000001" y="304.876" width="25.3" height="10.248" fill="#fff"/>
<text x="664.7" y="314.37" font-family="Liberation Sans, sans-serif" font-size="12.2" font-weight="bold" fill="#2222b4" text-anchor="middle" textLength="21.3" lengthAdjust="spacingAndGlyphs" stroke="#2222b4" stroke-width="0.34">3.00</text>
<rect x="608.4" y="336.3" width="78.6" height="71.7" stroke="#8a8a8a" stroke-width="1.6" fill="none"/>
<rect x="610.8" y="338.6" width="74" height="67" stroke="#b0b0b0" stroke-width="0.8" fill="none"/>
<line x1="609.5" y1="372.2" x2="686" y2="372.2" stroke="#777" stroke-width="1.7"/>
<line x1="629" y1="338" x2="629" y2="407" stroke="#8a8a8a" stroke-width="0.8"/>
<path d="M652 338 Q639 352 632.5 372 M643 338 Q636 354 632.5 372 M639.5 338 Q634 356 632 372 M652 407 Q639 393 632.5 372 M643 407 Q636 391 632.5 372 M639.5 407 Q634 389 632 372 M685 345 L684 362 M636.5 367 L632.5 372 L636.5 377" stroke="#8a8a8a" stroke-width="0.8" fill="none"/>
<rect x="607.5" y="320" width="16.5" height="15.4" stroke="#8a8a8a" stroke-width="1" fill="#fff" rx="3"/>
<rect x="607.5" y="409.4" width="16.5" height="15.6" stroke="#8a8a8a" stroke-width="1" fill="#fff" rx="3"/>
<line x1="712.2" y1="291" x2="712.2" y2="460" stroke="#cc6a78" stroke-width="1.35"/>
<g transform="translate(713.2 375.1) rotate(-90)">
<rect x="-12.5" y="-5.04" width="25" height="10.08" fill="#fff"/>
<text x="0" y="4.3" font-family="Liberation Sans, sans-serif" font-size="12" font-weight="bold" fill="#2222b4" text-anchor="middle" textLength="21" lengthAdjust="spacingAndGlyphs" stroke="#2222b4" stroke-width="0.34">4.20</text>
</g>
<text x="653" y="441" font-family="Liberation Sans, sans-serif" font-size="11.8" font-weight="bold" fill="#111" text-anchor="middle" textLength="52.4" lengthAdjust="spacingAndGlyphs" stroke="#111" stroke-width="0.33">Bed Room</text>
<text x="610.4" y="419.6" font-family="Liberation Sans, sans-serif" font-size="12" font-weight="bold" fill="#111" text-anchor="middle" textLength="70" lengthAdjust="spacingAndGlyphs" stroke="#111" stroke-width="0.34">قکرح دض بیرد</text>
<polyline points="569,431.5 580,424 650,424" stroke="#444" stroke-width="0.9" fill="none"/>
<rect x="605.5" y="459.8" width="71" height="32.9" stroke="#8a8a8a" stroke-width="1.5" fill="none"/>
<rect x="608" y="462" width="66" height="28.5" stroke="#b0b0b0" stroke-width="0.8" fill="none"/>
<line x1="609" y1="463" x2="674" y2="489" stroke="#8a8a8a" stroke-width="0.6"/>
<line x1="674" y1="463" x2="609" y2="489" stroke="#8a8a8a" stroke-width="0.6"/>
<line x1="605" y1="469" x2="677" y2="469" stroke="#cc6a78" stroke-width="1.35"/>
<line x1="668" y1="458" x2="668" y2="493" stroke="#cc6a78" stroke-width="1.35"/>
<rect x="626.25" y="463.876" width="25.3" height="10.248" fill="#fff"/>
<text x="638.9" y="473.37" font-family="Liberation Sans, sans-serif" font-size="12.2" font-weight="bold" fill="#2222b4" text-anchor="middle" textLength="21.3" lengthAdjust="spacingAndGlyphs" stroke="#2222b4" stroke-width="0.34">1.70</text>
<g transform="translate(666.6 476.5) rotate(-90)">
<rect x="-12.5" y="-5.04" width="25" height="10.08" fill="#fff"/>
<text x="0" y="4.3" font-family="Liberation Sans, sans-serif" font-size="12" font-weight="bold" fill="#2222b4" text-anchor="middle" textLength="21" lengthAdjust="spacingAndGlyphs" stroke="#2222b4" stroke-width="0.34">0.85</text>
</g>
<rect x="617" y="497" width="56" height="87" fill="url(#tile)"/>
<line x1="609.4" y1="495.5" x2="676.6" y2="495.5" stroke="#454545" stroke-width="1.3"/>
<line x1="617" y1="499" x2="672.8" y2="499" stroke="#8a8a8a" stroke-width="1"/>
<line x1="617.6" y1="499" x2="617.6" y2="587" stroke="#454545" stroke-width="1.1"/>
<line x1="617.6" y1="587" x2="676.9" y2="587" stroke="#454545" stroke-width="1.2"/>
<line x1="606" y1="590.5" x2="676.9" y2="590.5" stroke="#454545" stroke-width="1.2"/>
<polyline points="609.4,582.4 606,582.4 606,590.5" stroke="#454545" stroke-width="1.2" fill="none"/>
<line x1="677.6" y1="590.2" x2="724" y2="590.2" stroke="#c878d8" stroke-width="1.2" stroke-dasharray="9 4"/>
<line x1="672.8" y1="460.5" x2="672.8" y2="553.8" stroke="#8a8a8a" stroke-width="1"/>
<line x1="676.6" y1="460.5" x2="676.6" y2="553.8" stroke="#454545" stroke-width="1.3"/>
<line x1="617" y1="504" x2="660" y2="504" stroke="#cc6a78" stroke-width="1.35"/>
<rect x="632.5999999999999" y="498.876" width="24.4" height="10.248" fill="#fff"/>
<text x="644.8" y="508.37" font-family="Liberation Sans, sans-serif" font-size="12.2" font-weight="bold" fill="#2222b4" text-anchor="middle" textLength="20.4" lengthAdjust="spacingAndGlyphs" stroke="#2222b4" stroke-width="0.34">1.40</text>
<line x1="627.4" y1="499" x2="627.4" y2="586" stroke="#cc6a78" stroke-width="1.35"/>
<g transform="translate(627.4 542.7) rotate(-90)">
<rect x="-12.25" y="-5.04" width="24.5" height="10.08" fill="#fff"/>
<text x="0" y="4.3" font-family="Liberation Sans, sans-serif" font-size="12" font-weight="bold" fill="#2222b4" text-anchor="middle" textLength="20.5" lengthAdjust="spacingAndGlyphs" stroke="#2222b4" stroke-width="0.34">2.25</text>
</g>
<text x="644.3" y="547.5" font-family="Liberation Sans, sans-serif" font-size="11" font-weight="bold" fill="#111" text-anchor="middle" stroke="#111" stroke-width="0.31">wc</text>
<rect x="634" y="510" width="20" height="17.7" stroke="#8a8a8a" stroke-width="1.2" fill="#fff" rx="3"/>
<rect x="634.5" y="511" width="3.5" height="10" fill="#666"/>
<rect x="650" y="511" width="3.5" height="10" fill="#666"/>
<path d="M638 527 L638 516 Q644 511 650 516 L650 527" stroke="#8a8a8a" stroke-width="1" fill="none"/>
<ellipse cx="625.3" cy="572.8" rx="7" ry="10" stroke="#777" stroke-width="1.2" fill="#fff"/>
<line x1="618" y1="572.8" x2="632.6" y2="572.8" stroke="#8a8a8a" stroke-width="0.8"/>
<line x1="625.3" y1="563" x2="625.3" y2="583" stroke="#8a8a8a" stroke-width="0.8"/>
<rect x="645" y="579.7" width="27.8" height="2.6" fill="#3a3ac8"/>
<path d="M645 581 A28 28 0 0 1 672.8 553.8" stroke="#4848c8" stroke-width="1.1" fill="none"/>
<line x1="676.6" y1="459.3" x2="684" y2="459.3" stroke="#454545" stroke-width="1.2"/>
<rect x="719" y="424" width="2.6" height="35.3" fill="#3a3ac8"/>
<path d="M720.2 424 A36 36 0 0 0 684 459.3" stroke="#4848c8" stroke-width="1.1" fill="none"/>
<line x1="727" y1="473" x2="727" y2="553.8" stroke="#454545" stroke-width="1.3"/>
<line x1="729" y1="459" x2="729" y2="474" stroke="#454545" stroke-width="1.2"/>
<rect x="729.5" y="508.9" width="35.3" height="2.6" fill="#3a3ac8"/>
<path d="M727 474.4 A36 36 0 0 1 764.8 510.2" stroke="#4848c8" stroke-width="1.1" fill="none"/>
<line x1="676.6" y1="535.5" x2="727" y2="535.5" stroke="#cc6a78" stroke-width="1.35"/>
<rect x="689.0" y="530.376" width="24.4" height="10.248" fill="#fff"/>
<text x="701.2" y="539.87" font-family="Liberation Sans, sans-serif" font-size="12.2" font-weight="bold" fill="#2222b4" text-anchor="middle" textLength="20.4" lengthAdjust="spacingAndGlyphs" stroke="#2222b4" stroke-width="0.34">1.20</text>
<rect x="729.5" y="579.7" width="27.8" height="2.6" fill="#3a3ac8"/>
<path d="M727 553.8 A28 28 0 0 1 757.3 581" stroke="#4848c8" stroke-width="1.1" fill="none"/>
<line x1="728.7" y1="363.8" x2="849" y2="363.8" stroke="#454545" stroke-width="1.2"/>
<line x1="728.7" y1="359.2" x2="848" y2="359.2" stroke="#454545" stroke-width="1.2"/>
<rect x="749" y="360" width="79.6" height="3.8" fill="#c8508a"/>
<line x1="728.7" y1="369.7" x2="848" y2="369.7" stroke="#cc6a78" stroke-width="1.35"/>
<rect x="776.0500000000001" y="365.07599999999996" width="25.3" height="10.248" fill="#fff"/>
<text x="788.7" y="374.57" font-family="Liberation Sans, sans-serif" font-size="12.2" font-weight="bold" fill="#2222b4" text-anchor="middle" textLength="21.3" lengthAdjust="spacingAndGlyphs" stroke="#2222b4" stroke-width="0.34">3.00</text>
<rect x="730.7" y="375.5" width="15.5" height="15.5" stroke="#8a8a8a" stroke-width="1" fill="#fff" rx="3"/>
<rect x="730.7" y="392" width="79.5" height="34.5" stroke="#8a8a8a" stroke-width="1.6" fill="none"/>
<rect x="733" y="394.5" width="75" height="29.5" stroke="#b0b0b0" stroke-width="0.8" fill="none"/>
<line x1="752" y1="392.5" x2="752" y2="426" stroke="#8a8a8a" stroke-width="0.9"/>
<path d="M752 393 L772 425 M752 393 L768 426 M752 393 L764 426 M758 392 L770 425" stroke="#8a8a8a" stroke-width="0.7" fill="none"/>
<rect x="730.8" y="429" width="16.4" height="16.4" stroke="#8a8a8a" stroke-width="1" fill="#fff" rx="3"/>
<line x1="833" y1="363.8" x2="833" y2="513" stroke="#cc6a78" stroke-width="1.35"/>
<g transform="translate(834.2 439.7) rotate(-90)">
<rect x="-12.5" y="-5.04" width="25" height="10.08" fill="#fff"/>
<text x="0" y="4.3" font-family="Liberation Sans, sans-serif" font-size="12" font-weight="bold" fill="#2222b4" text-anchor="middle" textLength="21" lengthAdjust="spacingAndGlyphs" stroke="#2222b4" stroke-width="0.34">3.80</text>
</g>
<text x="795" y="471.9" font-family="Liberation Sans, sans-serif" font-size="11.8" font-weight="bold" fill="#111" text-anchor="middle" textLength="52.4" lengthAdjust="spacingAndGlyphs" stroke="#111" stroke-width="0.33">Bed Room</text>
<line x1="849" y1="308.6" x2="849" y2="493.8" stroke="#454545" stroke-width="1.3"/>
<line x1="856.3" y1="288.5" x2="856.3" y2="1121" stroke="#454545" stroke-width="1.3"/>
<rect x="836.4" y="288.2" width="19.4" height="20.4" stroke="#454545" stroke-width="1.3" fill="#fff"/>
<rect x="836.7" y="493.8" width="18.9" height="19.7" stroke="#454545" stroke-width="1.3" fill="#fff"/>
<line x1="728.7" y1="284.3" x2="836.4" y2="288.3" stroke="#5a5ad0" stroke-width="1.2"/>
<line x1="728.7" y1="292.3" x2="836.4" y2="296.2" stroke="#5a5ad0" stroke-width="1.2"/>
<line x1="728.7" y1="299.8" x2="848" y2="299.8" stroke="#cc6a78" stroke-width="1.35"/>
<rect x="776.0500000000001" y="295.176" width="25.3" height="10.248" fill="#fff"/>
<text x="788.7" y="304.67" font-family="Liberation Sans, sans-serif" font-size="12.2" font-weight="bold" fill="#2222b4" text-anchor="middle" textLength="21.3" lengthAdjust="spacingAndGlyphs" stroke="#2222b4" stroke-width="0.34">3.00</text>
<line x1="739.4" y1="285" x2="739.4" y2="359" stroke="#cc6a78" stroke-width="1.35"/>
<g transform="translate(739.8 321.6) rotate(-90)">
<rect x="-12.25" y="-5.04" width="24.5" height="10.08" fill="#fff"/>
<text x="0" y="4.3" font-family="Liberation Sans, sans-serif" font-size="12" font-weight="bold" fill="#2222b4" text-anchor="middle" textLength="20.5" lengthAdjust="spacingAndGlyphs" stroke="#2222b4" stroke-width="0.34">1.90</text>
</g>
<path d="M760.7 329.0 Q756.4 334.4 752.0 335.8 Q761.2 334.3 770.4 332.8" fill="#fafcf6" stroke="#6f8a60" stroke-width="0.9"/>
<path d="M774.3 311.5 Q776.3 309.6 778.2 303.7 Q779.2 311.5 780.1 319.3" fill="#fafcf6" stroke="#6f8a60" stroke-width="0.9"/>
<path d="M778.2 321.2 Q782.1 328.5 786.0 331.9 Q783.1 330.4 780.1 329.0" fill="#fafcf6" stroke="#6f8a60" stroke-width="0.9"/>
<path d="M773.4 330.9 Q774.8 337.3 776.3 339.6 Q777.2 333.3 778.2 327.0" fill="#fafcf6" stroke="#6f8a60" stroke-width="0.9"/>
<path d="M779.2 315.4 Q783.1 319.3 786.9 319.3 Q784.5 321.2 782.1 323.1" fill="#fafcf6" stroke="#6f8a60" stroke-width="0.9"/>
<ellipse cx="769.5" cy="321.2" rx="12.6" ry="13.1" fill="#d4eba0" stroke="#5a9a3a" stroke-width="0.9"/>
<path d="M763.7 323.1a3.0 2.4 0 1 0 6.0 0a3.0 2.4 0 1 0 -6.0 0M774.2 324.8a1.9 1.5 0 1 0 3.8 0a1.9 1.5 0 1 0 -3.8 0M766.7 320.4a3.2 2.5 0 1 0 6.4 0a3.2 2.5 0 1 0 -6.4 0M764.9 324.9a3.0 2.4 0 1 0 6.1 0a3.0 2.4 0 1 0 -6.1 0M767.6 321.9a2.5 2.0 0 1 0 4.9 0a2.5 2.0 0 1 0 -4.9 0M759.9 324.3a2.2 1.7 0 1 0 4.3 0a2.2 1.7 0 1 0 -4.3 0M759.6 317.6a2.7 2.2 0 1 0 5.4 0a2.7 2.2 0 1 0 -5.4 0M766.8 321.2a3.3 2.6 0 1 0 6.6 0a3.3 2.6 0 1 0 -6.6 0M770.3 325.6a2.2 1.8 0 1 0 4.4 0a2.2 1.8 0 1 0 -4.4 0M767.1 321.9a3.4 2.7 0 1 0 6.8 0a3.4 2.7 0 1 0 -6.8 0M765.9 330.7a1.9 1.5 0 1 0 3.8 0a1.9 1.5 0 1 0 -3.8 0M770.5 323.3a1.8 1.5 0 1 0 3.7 0a1.8 1.5 0 1 0 -3.7 0M765.1 324.5a3.4 2.7 0 1 0 6.8 0a3.4 2.7 0 1 0 -6.8 0M766.1 323.4a3.0 2.4 0 1 0 5.9 0a3.0 2.4 0 1 0 -5.9 0M766.4 318.3a2.6 2.1 0 1 0 5.3 0a2.6 2.1 0 1 0 -5.3 0M775.3 319.9a2.8 2.3 0 1 0 5.7 0a2.8 2.3 0 1 0 -5.7 0M761.1 320.6a2.5 2.0 0 1 0 4.9 0a2.5 2.0 0 1 0 -4.9 0M770.2 319.1a2.7 2.2 0 1 0 5.4 0a2.7 2.2 0 1 0 -5.4 0M763.3 321.4a3.4 2.7 0 1 0 6.9 0a3.4 2.7 0 1 0 -6.9 0M775.5 324.8a3.0 2.4 0 1 0 6.0 0a3.0 2.4 0 1 0 -6.0 0M767.1 321.0a2.6 2.1 0 1 0 5.2 0a2.6 2.1 0 1 0 -5.2 0M767.9 318.7a2.4 2.0 0 1 0 4.9 0a2.4 2.0 0 1 0 -4.9 0M764.5 326.1a2.1 1.7 0 1 0 4.2 0a2.1 1.7 0 1 0 -4.2 0M759.9 324.2a2.3 1.8 0 1 0 4.5 0a2.3 1.8 0 1 0 -4.5 0M767.6 321.7a3.2 2.5 0 1 0 6.4 0a3.2 2.5 0 1 0 -6.4 0M762.5 314.6a2.2 1.8 0 1 0 4.5 0a2.2 1.8 0 1 0 -4.5 0" fill="none" stroke="#4a9a30" stroke-width="0.8"/>
<path d="M769.5 321.2L759.5 325.0M769.5 321.2L775.0 330.3M769.5 321.2L762.4 313.2M769.5 321.2L770.8 310.6M769.5 321.2L762.6 313.1M769.5 321.2L774.1 330.8M769.5 321.2L768.3 331.8M769.5 321.2L779.9 319.0" fill="none" stroke="#2f7a25" stroke-width="0.9"/>
<circle cx="774.3" cy="319.3" r="3.4" fill="#2f8a30" opacity="0.7"/>
<path d="M803.7 336.5 Q799.4 341.8 795.2 343.1 Q804.1 341.7 813.1 340.3" fill="#fafcf6" stroke="#6f8a60" stroke-width="0.9"/>
<path d="M816.8 319.6 Q818.7 317.8 820.6 312.1 Q821.6 319.6 822.5 327.1" fill="#fafcf6" stroke="#6f8a60" stroke-width="0.9"/>
<path d="M820.6 329.0 Q824.4 336.2 828.1 339.4 Q825.3 337.9 822.5 336.5" fill="#fafcf6" stroke="#6f8a60" stroke-width="0.9"/>
<path d="M815.9 338.4 Q817.3 344.6 818.7 346.9 Q819.7 340.8 820.6 334.6" fill="#fafcf6" stroke="#6f8a60" stroke-width="0.9"/>
<path d="M821.6 323.4 Q825.3 327.2 829.1 327.1 Q826.7 329.0 824.4 330.9" fill="#fafcf6" stroke="#6f8a60" stroke-width="0.9"/>
<ellipse cx="812.1" cy="329.0" rx="12.2" ry="12.7" fill="#d4eba0" stroke="#5a9a3a" stroke-width="0.9"/>
<path d="M803.7 336.0a2.3 1.8 0 1 0 4.5 0a2.3 1.8 0 1 0 -4.5 0M806.6 326.4a2.8 2.2 0 1 0 5.5 0a2.8 2.2 0 1 0 -5.5 0M805.9 328.4a3.0 2.4 0 1 0 5.9 0a3.0 2.4 0 1 0 -5.9 0M808.2 327.3a2.2 1.8 0 1 0 4.5 0a2.2 1.8 0 1 0 -4.5 0M809.3 337.3a2.0 1.6 0 1 0 4.1 0a2.0 1.6 0 1 0 -4.1 0M810.2 329.1a2.0 1.6 0 1 0 3.9 0a2.0 1.6 0 1 0 -3.9 0M811.7 321.3a3.2 2.6 0 1 0 6.5 0a3.2 2.6 0 1 0 -6.5 0M808.2 326.2a2.7 2.2 0 1 0 5.4 0a2.7 2.2 0 1 0 -5.4 0M812.2 327.0a3.0 2.4 0 1 0 6.1 0a3.0 2.4 0 1 0 -6.1 0M807.1 333.5a3.3 2.7 0 1 0 6.7 0a3.3 2.7 0 1 0 -6.7 0M815.9 323.1a2.5 2.0 0 1 0 5.1 0a2.5 2.0 0 1 0 -5.1 0M801.1 328.4a3.4 2.7 0 1 0 6.8 0a3.4 2.7 0 1 0 -6.8 0M814.5 331.6a2.9 2.3 0 1 0 5.7 0a2.9 2.3 0 1 0 -5.7 0M814.2 330.1a2.2 1.8 0 1 0 4.4 0a2.2 1.8 0 1 0 -4.4 0M810.6 329.9a2.4 1.9 0 1 0 4.8 0a2.4 1.9 0 1 0 -4.8 0M805.8 331.6a1.9 1.5 0 1 0 3.8 0a1.9 1.5 0 1 0 -3.8 0M807.4 324.9a2.7 2.1 0 1 0 5.3 0a2.7 2.1 0 1 0 -5.3 0M812.0 333.8a3.0 2.4 0 1 0 6.0 0a3.0 2.4 0 1 0 -6.0 0M815.3 335.1a2.8 2.2 0 1 0 5.6 0a2.8 2.2 0 1 0 -5.6 0M809.1 329.3a3.2 2.6 0 1 0 6.5 0a3.2 2.6 0 1 0 -6.5 0M807.5 333.2a2.1 1.7 0 1 0 4.2 0a2.1 1.7 0 1 0 -4.2 0M810.2 338.0a1.9 1.5 0 1 0 3.8 0a1.9 1.5 0 1 0 -3.8 0M811.7 325.5a2.7 2.2 0 1 0 5.4 0a2.7 2.2 0 1 0 -5.4 0M801.9 332.3a2.2 1.7 0 1 0 4.4 0a2.2 1.7 0 1 0 -4.4 0M808.8 325.9a3.0 2.4 0 1 0 5.9 0a3.0 2.4 0 1 0 -5.9 0M812.9 336.0a2.2 1.8 0 1 0 4.5 0a2.2 1.8 0 1 0 -4.5 0" fill="none" stroke="#4a9a30" stroke-width="0.8"/>
<path d="M812.1 329.0L808.3 319.4M812.1 329.0L822.5 328.8M812.1 329.0L802.6 332.9M812.1 329.0L801.8 329.6M812.1 329.0L822.5 328.8M812.1 329.0L816.3 319.5M812.1 329.0L803.2 334.2M812.1 329.0L803.4 334.5" fill="none" stroke="#2f7a25" stroke-width="0.9"/>
<circle cx="816.8" cy="327.1" r="3.3" fill="#2f8a30" opacity="0.7"/>
<text x="836.8" y="271.6" font-family="Liberation Sans, sans-serif" font-size="14.5" font-weight="bold" fill="#111" text-anchor="middle" direction="ltr" unicode-bidi="bidi-override" style="direction:ltr;unicode-bidi:bidi-override" textLength="70" lengthAdjust="spacingAndGlyphs">درز انقطاع</text>
<polyline points="809,277.5 879,277.5 858.7,303.7" stroke="#444" stroke-width="0.9" fill="none"/>
<line x1="727.5" y1="514.8" x2="776.2" y2="514.8" stroke="#454545" stroke-width="1.3"/>
<rect x="728.3" y="514.8" width="47.9" height="29" stroke="#8a8a8a" stroke-width="1.4" fill="none"/>
<line x1="730" y1="516.5" x2="774" y2="542" stroke="#8a8a8a" stroke-width="0.6"/>
<line x1="728.3" y1="521.5" x2="776" y2="521.5" stroke="#cc6a78" stroke-width="0.9"/>
<rect x="742.0" y="519.58" width="23" height="9.24" fill="#fff"/>
<text x="753.5" y="528.14" font-family="Liberation Sans, sans-serif" font-size="11" font-weight="bold" fill="#2222b4" text-anchor="middle" textLength="19" lengthAdjust="spacingAndGlyphs" stroke="#2222b4" stroke-width="0.31">1.20</text>
<g transform="translate(765.5 529.3) rotate(-90)">
<rect x="-10.5" y="-4.2" width="21" height="8.4" fill="#fff"/>
<text x="0" y="3.58" font-family="Liberation Sans, sans-serif" font-size="10" font-weight="bold" fill="#2222b4" text-anchor="middle" textLength="17" lengthAdjust="spacingAndGlyphs" stroke="#2222b4" stroke-width="0.28">0.85</text>
</g>
<line x1="776.2" y1="517.5" x2="849" y2="517.5" stroke="#454545" stroke-width="1.3"/>
<line x1="776.2" y1="514.8" x2="776.2" y2="543.8" stroke="#454545" stroke-width="1.3"/>
<rect x="729.5" y="544" width="119" height="43" fill="url(#tile)"/>
<rect x="777" y="519" width="72" height="25" fill="url(#tile)"/>
<polyline points="729,546 776.2,546 776.2,543.8" stroke="#454545" stroke-width="1.2" fill="none"/>
<line x1="729" y1="586.6" x2="849" y2="586.6" stroke="#454545" stroke-width="1.3"/>
<line x1="729" y1="590.2" x2="849" y2="590.2" stroke="#454545" stroke-width="1.3"/>
<ellipse cx="791.4" cy="529.8" rx="6.5" ry="8" stroke="#777" stroke-width="1.2" fill="#fff"/>
<rect x="810" y="521" width="35.5" height="35.4" stroke="#8a8a8a" stroke-width="1.1" fill="#fff" rx="4"/>
<line x1="814" y1="550" x2="835" y2="528" stroke="#8a8a8a" stroke-width="0.9"/>
<circle cx="840" cy="525.5" r="1.6" stroke="#8a8a8a" stroke-width="0.8" fill="none"/>
<line x1="840" y1="530" x2="840" y2="550" stroke="#8a8a8a" stroke-width="0.8"/>
<rect x="836.7" y="564" width="11.3" height="21.4" stroke="#8a8a8a" stroke-width="1" fill="#fff" rx="5"/>
<text x="774.7" y="566.5" font-family="Liberation Sans, sans-serif" font-size="11.5" font-weight="bold" fill="#111" text-anchor="middle" textLength="22.3" lengthAdjust="spacingAndGlyphs" stroke="#111" stroke-width="0.32">Bath</text>
<line x1="803.4" y1="519" x2="803.4" y2="586" stroke="#cc6a78" stroke-width="1.35"/>
<g transform="translate(803.4 553.3) rotate(-90)">
<rect x="-12.2" y="-5.04" width="24.4" height="10.08" fill="#fff"/>
<text x="0" y="4.3" font-family="Liberation Sans, sans-serif" font-size="12" font-weight="bold" fill="#2222b4" text-anchor="middle" textLength="20.4" lengthAdjust="spacingAndGlyphs" stroke="#2222b4" stroke-width="0.34">1.70</text>
</g>
<line x1="729" y1="581" x2="849" y2="581" stroke="#cc6a78" stroke-width="1.35"/>
<rect x="775.65" y="575.876" width="25.3" height="10.248" fill="#fff"/>
<text x="788.3" y="585.37" font-family="Liberation Sans, sans-serif" font-size="12.2" font-weight="bold" fill="#2222b4" text-anchor="middle" textLength="21.3" lengthAdjust="spacingAndGlyphs" stroke="#2222b4" stroke-width="0.34">3.00</text>
<polygon points="237.2,567.1 261,567.1 248.5,589.6 237.2,589.6" stroke="#454545" stroke-width="1.3" fill="#fff"/>
<path d="M264.4 565.6 Q222 632 266.3 683.6 L266.3 737.8 L411 737.8" stroke="#454545" stroke-width="1.3" fill="none"/>
<line x1="264.4" y1="565.6" x2="337" y2="565.6" stroke="#454545" stroke-width="1.2"/>
<path d="M273.6 578 Q240 637 273.6 695.8" stroke="#c878d8" stroke-width="1.2" fill="none" stroke-dasharray="9 4"/>
<line x1="237" y1="564.2" x2="552" y2="564.2" stroke="#c878d8" stroke-width="1.2" stroke-dasharray="9 4"/>
<line x1="273.6" y1="578.2" x2="552" y2="578.2" stroke="#c878d8" stroke-width="1.2" stroke-dasharray="9 4"/>
<polyline points="336.7,726 424,726 424,738" stroke="#c878d8" stroke-width="1.2" fill="none" stroke-dasharray="9 4"/>
<line x1="278" y1="726" x2="334" y2="726" stroke="#c878d8" stroke-width="1.2" stroke-dasharray="9 4"/>
<rect x="284" y="569.7" width="50" height="10" stroke="#666" stroke-width="1.1" fill="#fff" rx="2.5"/>
<line x1="289.0" y1="570.7" x2="289.0" y2="578.7" stroke="#8a8a8a" stroke-width="0.8"/>
<line x1="294.0" y1="570.7" x2="294.0" y2="578.7" stroke="#666" stroke-width="0.8"/>
<line x1="299.0" y1="570.7" x2="299.0" y2="578.7" stroke="#8a8a8a" stroke-width="0.8"/>
<line x1="304.0" y1="570.7" x2="304.0" y2="578.7" stroke="#666" stroke-width="0.8"/>
<line x1="309.0" y1="570.7" x2="309.0" y2="578.7" stroke="#8a8a8a" stroke-width="0.8"/>
<line x1="314.0" y1="570.7" x2="314.0" y2="578.7" stroke="#666" stroke-width="0.8"/>
<line x1="319.0" y1="570.7" x2="319.0" y2="578.7" stroke="#8a8a8a" stroke-width="0.8"/>
<line x1="324.0" y1="570.7" x2="324.0" y2="578.7" stroke="#666" stroke-width="0.8"/>
<line x1="329.0" y1="570.7" x2="329.0" y2="578.7" stroke="#8a8a8a" stroke-width="0.8"/>
<line x1="285" y1="574.7" x2="333" y2="574.7" stroke="#8a8a8a" stroke-width="0.8"/>
<rect x="284" y="580" width="30.5" height="22" stroke="#666" stroke-width="1.1" fill="#fff" rx="2.5"/>
<line x1="289.0833333333333" y1="581" x2="289.0833333333333" y2="601" stroke="#8a8a8a" stroke-width="0.8"/>
<line x1="294.1666666666667" y1="581" x2="294.1666666666667" y2="601" stroke="#666" stroke-width="0.8"/>
<line x1="299.25" y1="581" x2="299.25" y2="601" stroke="#8a8a8a" stroke-width="0.8"/>
<line x1="304.3333333333333" y1="581" x2="304.3333333333333" y2="601" stroke="#666" stroke-width="0.8"/>
<line x1="309.4166666666667" y1="581" x2="309.4166666666667" y2="601" stroke="#8a8a8a" stroke-width="0.8"/>
<line x1="285" y1="585.5" x2="313.5" y2="585.5" stroke="#8a8a8a" stroke-width="0.8"/>
<line x1="285" y1="591.0" x2="313.5" y2="591.0" stroke="#666" stroke-width="0.8"/>
<line x1="285" y1="596.5" x2="313.5" y2="596.5" stroke="#8a8a8a" stroke-width="0.8"/>
<rect x="314.5" y="580" width="19.8" height="18" stroke="#666" stroke-width="1.1" fill="#fff" rx="2.5"/>
<line x1="319.45" y1="581" x2="319.45" y2="597" stroke="#8a8a8a" stroke-width="0.8"/>
<line x1="324.4" y1="581" x2="324.4" y2="597" stroke="#666" stroke-width="0.8"/>
<line x1="329.35" y1="581" x2="329.35" y2="597" stroke="#8a8a8a" stroke-width="0.8"/>
<line x1="315.5" y1="589.0" x2="333.3" y2="589.0" stroke="#666" stroke-width="0.8"/>
<rect x="274.9" y="571" width="9.1" height="57" stroke="#666" stroke-width="1.1" fill="#fff" rx="2.5"/>
<line x1="279.45" y1="572" x2="279.45" y2="627" stroke="#8a8a8a" stroke-width="0.8"/>
<line x1="275.9" y1="575.75" x2="283.0" y2="575.75" stroke="#8a8a8a" stroke-width="0.8"/>
<line x1="275.9" y1="580.5" x2="283.0" y2="580.5" stroke="#666" stroke-width="0.8"/>
<line x1="275.9" y1="585.25" x2="283.0" y2="585.25" stroke="#8a8a8a" stroke-width="0.8"/>
<line x1="275.9" y1="590.0" x2="283.0" y2="590.0" stroke="#666" stroke-width="0.8"/>
<line x1="275.9" y1="594.75" x2="283.0" y2="594.75" stroke="#8a8a8a" stroke-width="0.8"/>
<line x1="275.9" y1="599.5" x2="283.0" y2="599.5" stroke="#666" stroke-width="0.8"/>
<line x1="275.9" y1="604.25" x2="283.0" y2="604.25" stroke="#8a8a8a" stroke-width="0.8"/>
<line x1="275.9" y1="609.0" x2="283.0" y2="609.0" stroke="#666" stroke-width="0.8"/>
<line x1="275.9" y1="613.75" x2="283.0" y2="613.75" stroke="#8a8a8a" stroke-width="0.8"/>
<line x1="275.9" y1="618.5" x2="283.0" y2="618.5" stroke="#666" stroke-width="0.8"/>
<line x1="275.9" y1="623.25" x2="283.0" y2="623.25" stroke="#8a8a8a" stroke-width="0.8"/>
<rect x="284" y="602" width="19" height="26" stroke="#666" stroke-width="1.1" fill="#fff" rx="2.5"/>
<line x1="288.75" y1="603" x2="288.75" y2="627" stroke="#8a8a8a" stroke-width="0.8"/>
<line x1="293.5" y1="603" x2="293.5" y2="627" stroke="#666" stroke-width="0.8"/>
<line x1="298.25" y1="603" x2="298.25" y2="627" stroke="#8a8a8a" stroke-width="0.8"/>
<line x1="285" y1="608.5" x2="302" y2="608.5" stroke="#8a8a8a" stroke-width="0.8"/>
<line x1="285" y1="615.0" x2="302" y2="615.0" stroke="#666" stroke-width="0.8"/>
<line x1="285" y1="621.5" x2="302" y2="621.5" stroke="#8a8a8a" stroke-width="0.8"/>
<rect x="274.9" y="632.7" width="9.1" height="34" stroke="#666" stroke-width="1.1" fill="#fff" rx="2.5"/>
<line x1="279.45" y1="633.7" x2="279.45" y2="665.7" stroke="#8a8a8a" stroke-width="0.8"/>
<line x1="275.9" y1="638.3666666666667" x2="283.0" y2="638.3666666666667" stroke="#8a8a8a" stroke-width="0.8"/>
<line x1="275.9" y1="644.0333333333334" x2="283.0" y2="644.0333333333334" stroke="#666" stroke-width="0.8"/>
<line x1="275.9" y1="649.7" x2="283.0" y2="649.7" stroke="#8a8a8a" stroke-width="0.8"/>
<line x1="275.9" y1="655.3666666666667" x2="283.0" y2="655.3666666666667" stroke="#666" stroke-width="0.8"/>
<line x1="275.9" y1="661.0333333333334" x2="283.0" y2="661.0333333333334" stroke="#8a8a8a" stroke-width="0.8"/>
<rect x="284" y="634" width="21" height="31" stroke="#666" stroke-width="1.1" fill="#fff" rx="2.5"/>
<line x1="289.25" y1="635" x2="289.25" y2="664" stroke="#8a8a8a" stroke-width="0.8"/>
<line x1="294.5" y1="635" x2="294.5" y2="664" stroke="#666" stroke-width="0.8"/>
<line x1="299.75" y1="635" x2="299.75" y2="664" stroke="#8a8a8a" stroke-width="0.8"/>
<line x1="285" y1="641.75" x2="304" y2="641.75" stroke="#8a8a8a" stroke-width="0.8"/>
<line x1="285" y1="649.5" x2="304" y2="649.5" stroke="#666" stroke-width="0.8"/>
<line x1="285" y1="657.25" x2="304" y2="657.25" stroke="#8a8a8a" stroke-width="0.8"/>
<rect x="274.9" y="671.5" width="9.1" height="61.5" stroke="#666" stroke-width="1.1" fill="#fff" rx="2.5"/>
<line x1="279.45" y1="672.5" x2="279.45" y2="732.0" stroke="#8a8a8a" stroke-width="0.8"/>
<line x1="275.9" y1="676.625" x2="283.0" y2="676.625" stroke="#8a8a8a" stroke-width="0.8"/>
<line x1="275.9" y1="681.75" x2="283.0" y2="681.75" stroke="#666" stroke-width="0.8"/>
<line x1="275.9" y1="686.875" x2="283.0" y2="686.875" stroke="#8a8a8a" stroke-width="0.8"/>
<line x1="275.9" y1="692.0" x2="283.0" y2="692.0" stroke="#666" stroke-width="0.8"/>
<line x1="275.9" y1="697.125" x2="283.0" y2="697.125" stroke="#8a8a8a" stroke-width="0.8"/>
<line x1="275.9" y1="702.25" x2="283.0" y2="702.25" stroke="#666" stroke-width="0.8"/>
<line x1="275.9" y1="707.375" x2="283.0" y2="707.375" stroke="#8a8a8a" stroke-width="0.8"/>
<line x1="275.9" y1="712.5" x2="283.0" y2="712.5" stroke="#666" stroke-width="0.8"/>
<line x1="275.9" y1="717.625" x2="283.0" y2="717.625" stroke="#8a8a8a" stroke-width="0.8"/>
<line x1="275.9" y1="722.75" x2="283.0" y2="722.75" stroke="#666" stroke-width="0.8"/>
<line x1="275.9" y1="727.875" x2="283.0" y2="727.875" stroke="#8a8a8a" stroke-width="0.8"/>
<rect x="284" y="673" width="19" height="28" stroke="#666" stroke-width="1.1" fill="#fff" rx="2.5"/>
<line x1="288.75" y1="674" x2="288.75" y2="700" stroke="#8a8a8a" stroke-width="0.8"/>
<line x1="293.5" y1="674" x2="293.5" y2="700" stroke="#666" stroke-width="0.8"/>
<line x1="298.25" y1="674" x2="298.25" y2="700" stroke="#8a8a8a" stroke-width="0.8"/>
<line x1="285" y1="680.0" x2="302" y2="680.0" stroke="#8a8a8a" stroke-width="0.8"/>
<line x1="285" y1="687.0" x2="302" y2="687.0" stroke="#666" stroke-width="0.8"/>
<line x1="285" y1="694.0" x2="302" y2="694.0" stroke="#8a8a8a" stroke-width="0.8"/>
<rect x="284" y="701" width="30" height="22" stroke="#666" stroke-width="1.1" fill="#fff" rx="2.5"/>
<line x1="289.0" y1="702" x2="289.0" y2="722" stroke="#8a8a8a" stroke-width="0.8"/>
<line x1="294.0" y1="702" x2="294.0" y2="722" stroke="#666" stroke-width="0.8"/>
<line x1="299.0" y1="702" x2="299.0" y2="722" stroke="#8a8a8a" stroke-width="0.8"/>
<line x1="304.0" y1="702" x2="304.0" y2="722" stroke="#666" stroke-width="0.8"/>
<line x1="309.0" y1="702" x2="309.0" y2="722" stroke="#8a8a8a" stroke-width="0.8"/>
<line x1="285" y1="706.5" x2="313" y2="706.5" stroke="#8a8a8a" stroke-width="0.8"/>
<line x1="285" y1="712.0" x2="313" y2="712.0" stroke="#666" stroke-width="0.8"/>
<line x1="285" y1="717.5" x2="313" y2="717.5" stroke="#8a8a8a" stroke-width="0.8"/>
<rect x="314" y="703" width="20" height="19" stroke="#666" stroke-width="1.1" fill="#fff" rx="2.5"/>
<line x1="319.0" y1="704" x2="319.0" y2="721" stroke="#8a8a8a" stroke-width="0.8"/>
<line x1="324.0" y1="704" x2="324.0" y2="721" stroke="#666" stroke-width="0.8"/>
<line x1="329.0" y1="704" x2="329.0" y2="721" stroke="#8a8a8a" stroke-width="0.8"/>
<line x1="315" y1="707.75" x2="333" y2="707.75" stroke="#8a8a8a" stroke-width="0.8"/>
<line x1="315" y1="712.5" x2="333" y2="712.5" stroke="#666" stroke-width="0.8"/>
<line x1="315" y1="717.25" x2="333" y2="717.25" stroke="#8a8a8a" stroke-width="0.8"/>
<rect x="284" y="723.5" width="50" height="9.9" stroke="#666" stroke-width="1.1" fill="#fff" rx="2.5"/>
<line x1="289.0" y1="724.5" x2="289.0" y2="732.4" stroke="#8a8a8a" stroke-width="0.8"/>
<line x1="294.0" y1="724.5" x2="294.0" y2="732.4" stroke="#666" stroke-width="0.8"/>
<line x1="299.0" y1="724.5" x2="299.0" y2="732.4" stroke="#8a8a8a" stroke-width="0.8"/>
<line x1="304.0" y1="724.5" x2="304.0" y2="732.4" stroke="#666" stroke-width="0.8"/>
<line x1="309.0" y1="724.5" x2="309.0" y2="732.4" stroke="#8a8a8a" stroke-width="0.8"/>
<line x1="314.0" y1="724.5" x2="314.0" y2="732.4" stroke="#666" stroke-width="0.8"/>
<line x1="319.0" y1="724.5" x2="319.0" y2="732.4" stroke="#8a8a8a" stroke-width="0.8"/>
<line x1="324.0" y1="724.5" x2="324.0" y2="732.4" stroke="#666" stroke-width="0.8"/>
<line x1="329.0" y1="724.5" x2="329.0" y2="732.4" stroke="#8a8a8a" stroke-width="0.8"/>
<line x1="285" y1="728.45" x2="333" y2="728.45" stroke="#8a8a8a" stroke-width="0.8"/>
<rect x="325.8" y="630.3" width="17" height="40" stroke="#999" stroke-width="1" fill="#f4f4f4"/>
<line x1="327.925" y1="631" x2="327.925" y2="669.6" stroke="#aaa" stroke-width="0.7"/>
<line x1="330.05" y1="631" x2="330.05" y2="669.6" stroke="#aaa" stroke-width="0.7"/>
<line x1="332.175" y1="631" x2="332.175" y2="669.6" stroke="#aaa" stroke-width="0.7"/>
<line x1="334.3" y1="631" x2="334.3" y2="669.6" stroke="#aaa" stroke-width="0.7"/>
<line x1="336.425" y1="631" x2="336.425" y2="669.6" stroke="#aaa" stroke-width="0.7"/>
<line x1="338.55" y1="631" x2="338.55" y2="669.6" stroke="#aaa" stroke-width="0.7"/>
<line x1="340.675" y1="631" x2="340.675" y2="669.6" stroke="#aaa" stroke-width="0.7"/>
<line x1="362.2" y1="565" x2="362.2" y2="739.4" stroke="#cc6a78" stroke-width="1.35"/>
<g transform="translate(363.3 652) rotate(-90)">
<rect x="-12.4" y="-5.04" width="24.8" height="10.08" fill="#fff"/>
<text x="0" y="4.3" font-family="Liberation Sans, sans-serif" font-size="12" font-weight="bold" fill="#2222b4" text-anchor="middle" textLength="20.8" lengthAdjust="spacingAndGlyphs" stroke="#2222b4" stroke-width="0.34">4.30</text>
</g>
<line x1="244.5" y1="628.6" x2="552" y2="628.6" stroke="#cc6a78" stroke-width="1.35"/>
<rect x="385.7" y="623.276" width="25.6" height="10.248" fill="#fff"/>
<text x="398.5" y="632.77" font-family="Liberation Sans, sans-serif" font-size="12.2" font-weight="bold" fill="#2222b4" text-anchor="middle" textLength="21.6" lengthAdjust="spacingAndGlyphs" stroke="#2222b4" stroke-width="0.34">7.70</text>
<line x1="451.9" y1="565" x2="451.9" y2="853" stroke="#cc6a78" stroke-width="1.35"/>
<g transform="translate(452 709.4) rotate(-90)">
<rect x="-12.5" y="-5.04" width="25" height="10.08" fill="#fff"/>
<text x="0" y="4.3" font-family="Liberation Sans, sans-serif" font-size="12" font-weight="bold" fill="#2222b4" text-anchor="middle" textLength="21" lengthAdjust="spacingAndGlyphs" stroke="#2222b4" stroke-width="0.34">7.14</text>
</g>
<circle cx="388.8" cy="658.2" r="10.8" stroke="#d43030" stroke-width="1.4" fill="none"/>
<line x1="377.9" y1="658.2" x2="442.2" y2="658.2" stroke="#d43030" stroke-width="1.1"/>
<line x1="388.8" y1="642.4" x2="388.8" y2="676.4" stroke="#d43030" stroke-width="1.1"/>
<text x="402.2" y="655.8" font-family="Liberation Sans, sans-serif" font-size="14.2" font-weight="bold" fill="#d42020" text-anchor="start" textLength="34" lengthAdjust="spacingAndGlyphs" stroke="#d42020" stroke-width="0.40">+4.00</text>
<text x="402.2" y="672.8" font-family="Liberation Sans, sans-serif" font-size="14.2" font-weight="bold" fill="#d42020" text-anchor="start" textLength="34" lengthAdjust="spacingAndGlyphs" stroke="#d42020" stroke-width="0.40">+7.60</text>
<text x="394.9" y="692.2" font-family="Liberation Sans, sans-serif" font-size="14.2" font-weight="bold" fill="#d42020" text-anchor="start" textLength="41.2" lengthAdjust="spacingAndGlyphs" stroke="#d42020" stroke-width="0.40">+11.20</text>
<text x="394.9" y="709.1" font-family="Liberation Sans, sans-serif" font-size="14.2" font-weight="bold" fill="#d42020" text-anchor="start" textLength="41.2" lengthAdjust="spacingAndGlyphs" stroke="#d42020" stroke-width="0.40">+14.80</text>
<text x="361.5" y="696.8" font-family="Liberation Sans, sans-serif" font-size="11.2" font-weight="bold" fill="#111" text-anchor="middle" textLength="57" lengthAdjust="spacingAndGlyphs" stroke="#111" stroke-width="0.31">Living room</text>
<polyline points="501.8,578.2 501.8,603 539.4,603 539.4,838" stroke="#c878d8" stroke-width="1.2" fill="none" stroke-dasharray="9 4"/>
<rect x="497" y="616.4" width="31.5" height="37.6" stroke="#777" stroke-width="1.2" fill="#fff"/>
<rect x="505" y="603" width="16.2" height="13.4" stroke="#8a8a8a" stroke-width="0.9" fill="#fff" rx="1.5"/>
<line x1="506.5" y1="605" x2="506.5" y2="614.4" stroke="#aaa" stroke-width="0.7"/>
<line x1="519.7" y1="605" x2="519.7" y2="614.4" stroke="#aaa" stroke-width="0.7"/>
<rect x="505" y="654" width="16.2" height="17" stroke="#8a8a8a" stroke-width="0.9" fill="#fff" rx="1.5"/>
<line x1="506.5" y1="656" x2="506.5" y2="669" stroke="#aaa" stroke-width="0.7"/>
<line x1="519.7" y1="656" x2="519.7" y2="669" stroke="#aaa" stroke-width="0.7"/>
<rect x="481.2" y="618.8" width="15.8" height="17" stroke="#8a8a8a" stroke-width="0.9" fill="#fff" rx="1.5"/>
<line x1="482.7" y1="620.8" x2="482.7" y2="633.8" stroke="#aaa" stroke-width="0.7"/>
<line x1="495.5" y1="620.8" x2="495.5" y2="633.8" stroke="#aaa" stroke-width="0.7"/>
<rect x="481.2" y="635.8" width="15.8" height="16.9" stroke="#8a8a8a" stroke-width="0.9" fill="#fff" rx="1.5"/>
<line x1="482.7" y1="637.8" x2="482.7" y2="650.6999999999999" stroke="#aaa" stroke-width="0.7"/>
<line x1="495.5" y1="637.8" x2="495.5" y2="650.6999999999999" stroke="#aaa" stroke-width="0.7"/>
<rect x="528.5" y="618.8" width="15.8" height="17" stroke="#8a8a8a" stroke-width="0.9" fill="#fff" rx="1.5"/>
<line x1="530.0" y1="620.8" x2="530.0" y2="633.8" stroke="#aaa" stroke-width="0.7"/>
<line x1="542.8" y1="620.8" x2="542.8" y2="633.8" stroke="#aaa" stroke-width="0.7"/>
<rect x="528.5" y="635.8" width="15.8" height="16.9" stroke="#8a8a8a" stroke-width="0.9" fill="#fff" rx="1.5"/>
<line x1="530.0" y1="637.8" x2="530.0" y2="650.6999999999999" stroke="#aaa" stroke-width="0.7"/>
<line x1="542.8" y1="637.8" x2="542.8" y2="650.6999999999999" stroke="#aaa" stroke-width="0.7"/>
<text x="507.6" y="686.2" font-family="Liberation Sans, sans-serif" font-size="11.2" font-weight="bold" fill="#111" text-anchor="middle" textLength="63.5" lengthAdjust="spacingAndGlyphs" stroke="#111" stroke-width="0.31">Dining  room</text>
<line x1="411" y1="736" x2="552" y2="736" stroke="#cc6a78" stroke-width="1.35"/>
<rect x="469.5" y="731.276" width="24.6" height="10.248" fill="#fff"/>
<text x="481.8" y="740.77" font-family="Liberation Sans, sans-serif" font-size="12.2" font-weight="bold" fill="#2222b4" text-anchor="middle" textLength="20.6" lengthAdjust="spacingAndGlyphs" stroke="#2222b4" stroke-width="0.34">3.50</text>
<line x1="557.6" y1="589.7" x2="561" y2="589.7" stroke="#454545" stroke-width="1.2"/>
<polyline points="605,589.6 609.4,589.6 609.4,583" stroke="#454545" stroke-width="1.2" fill="none"/>
<line x1="725" y1="589.6" x2="848.3" y2="589.6" stroke="#454545" stroke-width="1.2"/>
<line x1="848.3" y1="590" x2="848.3" y2="751" stroke="#454545" stroke-width="1.3"/>
<line x1="568.5" y1="603" x2="726" y2="603" stroke="#c878d8" stroke-width="1.2" stroke-dasharray="9 4"/>
<line x1="568.5" y1="603" x2="568.5" y2="860" stroke="#c878d8" stroke-width="1.2" stroke-dasharray="9 4"/>
<line x1="836.7" y1="603" x2="836.7" y2="739" stroke="#c878d8" stroke-width="1.2" stroke-dasharray="9 4"/>
<line x1="681.9" y1="739" x2="779.7" y2="739" stroke="#c878d8" stroke-width="1.2" stroke-dasharray="9 4"/>
<line x1="557.6" y1="637.3" x2="848" y2="637.3" stroke="#cc6a78" stroke-width="1.35"/>
<rect x="689.2" y="632.476" width="26" height="10.248" fill="#fff"/>
<text x="702.2" y="641.97" font-family="Liberation Sans, sans-serif" font-size="12.2" font-weight="bold" fill="#2222b4" text-anchor="middle" textLength="22" lengthAdjust="spacingAndGlyphs" stroke="#2222b4" stroke-width="0.34">7.30</text>
<rect x="726.1" y="595" width="56" height="9" stroke="#666" stroke-width="1.1" fill="#fff" rx="2.5"/>
<line x1="731.7" y1="596" x2="731.7" y2="603" stroke="#8a8a8a" stroke-width="0.8"/>
<line x1="737.3000000000001" y1="596" x2="737.3000000000001" y2="603" stroke="#666" stroke-width="0.8"/>
<line x1="742.9" y1="596" x2="742.9" y2="603" stroke="#8a8a8a" stroke-width="0.8"/>
<line x1="748.5" y1="596" x2="748.5" y2="603" stroke="#666" stroke-width="0.8"/>
<line x1="754.1" y1="596" x2="754.1" y2="603" stroke="#8a8a8a" stroke-width="0.8"/>
<line x1="759.7" y1="596" x2="759.7" y2="603" stroke="#666" stroke-width="0.8"/>
<line x1="765.3000000000001" y1="596" x2="765.3000000000001" y2="603" stroke="#8a8a8a" stroke-width="0.8"/>
<line x1="770.9" y1="596" x2="770.9" y2="603" stroke="#666" stroke-width="0.8"/>
<line x1="776.5" y1="596" x2="776.5" y2="603" stroke="#8a8a8a" stroke-width="0.8"/>
<rect x="726.1" y="604" width="56" height="22.6" stroke="#666" stroke-width="1.1" fill="#fff" rx="2.5"/>
<line x1="733.1" y1="605" x2="733.1" y2="625.6" stroke="#8a8a8a" stroke-width="0.8"/>
<line x1="740.1" y1="605" x2="740.1" y2="625.6" stroke="#666" stroke-width="0.8"/>
<line x1="747.1" y1="605" x2="747.1" y2="625.6" stroke="#8a8a8a" stroke-width="0.8"/>
<line x1="754.1" y1="605" x2="754.1" y2="625.6" stroke="#666" stroke-width="0.8"/>
<line x1="761.1" y1="605" x2="761.1" y2="625.6" stroke="#8a8a8a" stroke-width="0.8"/>
<line x1="768.1" y1="605" x2="768.1" y2="625.6" stroke="#666" stroke-width="0.8"/>
<line x1="775.1" y1="605" x2="775.1" y2="625.6" stroke="#8a8a8a" stroke-width="0.8"/>
<line x1="727.1" y1="609.65" x2="781.1" y2="609.65" stroke="#8a8a8a" stroke-width="0.8"/>
<line x1="727.1" y1="615.3" x2="781.1" y2="615.3" stroke="#666" stroke-width="0.8"/>
<line x1="727.1" y1="620.95" x2="781.1" y2="620.95" stroke="#8a8a8a" stroke-width="0.8"/>
<rect x="783" y="595" width="62" height="9" stroke="#666" stroke-width="1.1" fill="#fff" rx="2.5"/>
<line x1="788.1666666666666" y1="596" x2="788.1666666666666" y2="603" stroke="#8a8a8a" stroke-width="0.8"/>
<line x1="793.3333333333334" y1="596" x2="793.3333333333334" y2="603" stroke="#666" stroke-width="0.8"/>
<line x1="798.5" y1="596" x2="798.5" y2="603" stroke="#8a8a8a" stroke-width="0.8"/>
<line x1="803.6666666666666" y1="596" x2="803.6666666666666" y2="603" stroke="#666" stroke-width="0.8"/>
<line x1="808.8333333333334" y1="596" x2="808.8333333333334" y2="603" stroke="#8a8a8a" stroke-width="0.8"/>
<line x1="814.0" y1="596" x2="814.0" y2="603" stroke="#666" stroke-width="0.8"/>
<line x1="819.1666666666666" y1="596" x2="819.1666666666666" y2="603" stroke="#8a8a8a" stroke-width="0.8"/>
<line x1="824.3333333333334" y1="596" x2="824.3333333333334" y2="603" stroke="#666" stroke-width="0.8"/>
<line x1="829.5" y1="596" x2="829.5" y2="603" stroke="#8a8a8a" stroke-width="0.8"/>
<line x1="834.6666666666666" y1="596" x2="834.6666666666666" y2="603" stroke="#666" stroke-width="0.8"/>
<line x1="839.8333333333334" y1="596" x2="839.8333333333334" y2="603" stroke="#8a8a8a" stroke-width="0.8"/>
<rect x="783" y="604" width="29" height="22.6" stroke="#666" stroke-width="1.1" fill="#fff" rx="2.5"/>
<line x1="790.25" y1="605" x2="790.25" y2="625.6" stroke="#8a8a8a" stroke-width="0.8"/>
<line x1="797.5" y1="605" x2="797.5" y2="625.6" stroke="#666" stroke-width="0.8"/>
<line x1="804.75" y1="605" x2="804.75" y2="625.6" stroke="#8a8a8a" stroke-width="0.8"/>
<line x1="784" y1="609.65" x2="811" y2="609.65" stroke="#8a8a8a" stroke-width="0.8"/>
<line x1="784" y1="615.3" x2="811" y2="615.3" stroke="#666" stroke-width="0.8"/>
<line x1="784" y1="620.95" x2="811" y2="620.95" stroke="#8a8a8a" stroke-width="0.8"/>
<rect x="812.3" y="604" width="22" height="50.5" stroke="#666" stroke-width="1.1" fill="#fff" rx="2.5"/>
<line x1="817.8" y1="605" x2="817.8" y2="653.5" stroke="#8a8a8a" stroke-width="0.8"/>
<line x1="823.3" y1="605" x2="823.3" y2="653.5" stroke="#666" stroke-width="0.8"/>
<line x1="828.8" y1="605" x2="828.8" y2="653.5" stroke="#8a8a8a" stroke-width="0.8"/>
<line x1="813.3" y1="610.3125" x2="833.3" y2="610.3125" stroke="#8a8a8a" stroke-width="0.8"/>
<line x1="813.3" y1="616.625" x2="833.3" y2="616.625" stroke="#666" stroke-width="0.8"/>
<line x1="813.3" y1="622.9375" x2="833.3" y2="622.9375" stroke="#8a8a8a" stroke-width="0.8"/>
<line x1="813.3" y1="629.25" x2="833.3" y2="629.25" stroke="#666" stroke-width="0.8"/>
<line x1="813.3" y1="635.5625" x2="833.3" y2="635.5625" stroke="#8a8a8a" stroke-width="0.8"/>
<line x1="813.3" y1="641.875" x2="833.3" y2="641.875" stroke="#666" stroke-width="0.8"/>
<line x1="813.3" y1="648.1875" x2="833.3" y2="648.1875" stroke="#8a8a8a" stroke-width="0.8"/>
<rect x="834.3" y="595" width="10.5" height="59.5" stroke="#666" stroke-width="1.1" fill="#fff" rx="2.5"/>
<line x1="839.55" y1="596" x2="839.55" y2="653.5" stroke="#8a8a8a" stroke-width="0.8"/>
<line x1="835.3" y1="600.95" x2="843.8" y2="600.95" stroke="#8a8a8a" stroke-width="0.8"/>
<line x1="835.3" y1="606.9" x2="843.8" y2="606.9" stroke="#666" stroke-width="0.8"/>
<line x1="835.3" y1="612.85" x2="843.8" y2="612.85" stroke="#8a8a8a" stroke-width="0.8"/>
<line x1="835.3" y1="618.8" x2="843.8" y2="618.8" stroke="#666" stroke-width="0.8"/>
<line x1="835.3" y1="624.75" x2="843.8" y2="624.75" stroke="#8a8a8a" stroke-width="0.8"/>
<line x1="835.3" y1="630.7" x2="843.8" y2="630.7" stroke="#666" stroke-width="0.8"/>
<line x1="835.3" y1="636.65" x2="843.8" y2="636.65" stroke="#8a8a8a" stroke-width="0.8"/>
<line x1="835.3" y1="642.6" x2="843.8" y2="642.6" stroke="#666" stroke-width="0.8"/>
<line x1="835.3" y1="648.55" x2="843.8" y2="648.55" stroke="#8a8a8a" stroke-width="0.8"/>
<rect x="812.3" y="686" width="22" height="33" stroke="#666" stroke-width="1.1" fill="#fff" rx="2.5"/>
<line x1="817.8" y1="687" x2="817.8" y2="718" stroke="#8a8a8a" stroke-width="0.8"/>
<line x1="823.3" y1="687" x2="823.3" y2="718" stroke="#666" stroke-width="0.8"/>
<line x1="828.8" y1="687" x2="828.8" y2="718" stroke="#8a8a8a" stroke-width="0.8"/>
<line x1="813.3" y1="691.5" x2="833.3" y2="691.5" stroke="#8a8a8a" stroke-width="0.8"/>
<line x1="813.3" y1="697.0" x2="833.3" y2="697.0" stroke="#666" stroke-width="0.8"/>
<line x1="813.3" y1="702.5" x2="833.3" y2="702.5" stroke="#8a8a8a" stroke-width="0.8"/>
<line x1="813.3" y1="708.0" x2="833.3" y2="708.0" stroke="#666" stroke-width="0.8"/>
<line x1="813.3" y1="713.5" x2="833.3" y2="713.5" stroke="#8a8a8a" stroke-width="0.8"/>
<rect x="834.3" y="686" width="10.5" height="60.4" stroke="#666" stroke-width="1.1" fill="#fff" rx="2.5"/>
<line x1="839.55" y1="687" x2="839.55" y2="745.4" stroke="#8a8a8a" stroke-width="0.8"/>
<line x1="835.3" y1="692.04" x2="843.8" y2="692.04" stroke="#8a8a8a" stroke-width="0.8"/>
<line x1="835.3" y1="698.08" x2="843.8" y2="698.08" stroke="#666" stroke-width="0.8"/>
<line x1="835.3" y1="704.12" x2="843.8" y2="704.12" stroke="#8a8a8a" stroke-width="0.8"/>
<line x1="835.3" y1="710.16" x2="843.8" y2="710.16" stroke="#666" stroke-width="0.8"/>
<line x1="835.3" y1="716.2" x2="843.8" y2="716.2" stroke="#8a8a8a" stroke-width="0.8"/>
<line x1="835.3" y1="722.24" x2="843.8" y2="722.24" stroke="#666" stroke-width="0.8"/>
<line x1="835.3" y1="728.28" x2="843.8" y2="728.28" stroke="#8a8a8a" stroke-width="0.8"/>
<line x1="835.3" y1="734.32" x2="843.8" y2="734.32" stroke="#666" stroke-width="0.8"/>
<line x1="835.3" y1="740.36" x2="843.8" y2="740.36" stroke="#8a8a8a" stroke-width="0.8"/>
<rect x="784.3" y="711" width="28" height="26" stroke="#666" stroke-width="1.1" fill="#fff" rx="2.5"/>
<line x1="791.3" y1="712" x2="791.3" y2="736" stroke="#8a8a8a" stroke-width="0.8"/>
<line x1="798.3" y1="712" x2="798.3" y2="736" stroke="#666" stroke-width="0.8"/>
<line x1="805.3" y1="712" x2="805.3" y2="736" stroke="#8a8a8a" stroke-width="0.8"/>
<line x1="785.3" y1="717.5" x2="811.3" y2="717.5" stroke="#8a8a8a" stroke-width="0.8"/>
<line x1="785.3" y1="724.0" x2="811.3" y2="724.0" stroke="#666" stroke-width="0.8"/>
<line x1="785.3" y1="730.5" x2="811.3" y2="730.5" stroke="#8a8a8a" stroke-width="0.8"/>
<rect x="784.3" y="737" width="50" height="9.4" stroke="#666" stroke-width="1.1" fill="#fff" rx="2.5"/>
<line x1="789.3" y1="738" x2="789.3" y2="745.4" stroke="#8a8a8a" stroke-width="0.8"/>
<line x1="794.3" y1="738" x2="794.3" y2="745.4" stroke="#666" stroke-width="0.8"/>
<line x1="799.3" y1="738" x2="799.3" y2="745.4" stroke="#8a8a8a" stroke-width="0.8"/>
<line x1="804.3" y1="738" x2="804.3" y2="745.4" stroke="#666" stroke-width="0.8"/>
<line x1="809.3" y1="738" x2="809.3" y2="745.4" stroke="#8a8a8a" stroke-width="0.8"/>
<line x1="814.3" y1="738" x2="814.3" y2="745.4" stroke="#666" stroke-width="0.8"/>
<line x1="819.3" y1="738" x2="819.3" y2="745.4" stroke="#8a8a8a" stroke-width="0.8"/>
<line x1="824.3" y1="738" x2="824.3" y2="745.4" stroke="#666" stroke-width="0.8"/>
<line x1="829.3" y1="738" x2="829.3" y2="745.4" stroke="#8a8a8a" stroke-width="0.8"/>
<line x1="785.3" y1="741.7" x2="833.3" y2="741.7" stroke="#8a8a8a" stroke-width="0.8"/>
<rect x="812.3" y="719" width="22" height="18" stroke="#666" stroke-width="1.1" fill="#fff" rx="2.5"/>
<line x1="817.8" y1="720" x2="817.8" y2="736" stroke="#8a8a8a" stroke-width="0.8"/>
<line x1="823.3" y1="720" x2="823.3" y2="736" stroke="#666" stroke-width="0.8"/>
<line x1="828.8" y1="720" x2="828.8" y2="736" stroke="#8a8a8a" stroke-width="0.8"/>
<line x1="813.3" y1="728.0" x2="833.3" y2="728.0" stroke="#666" stroke-width="0.8"/>
<circle cx="825" cy="670.8" r="10" stroke="#888" stroke-width="1" fill="#fff"/>
<rect x="751.7" y="642.8" width="39.6" height="17.5" stroke="#999" stroke-width="1" fill="#cfcfcf"/>
<line x1="753" y1="647" x2="790" y2="647" stroke="#bbb" stroke-width="0.6"/>
<line x1="753" y1="651.5" x2="790" y2="651.5" stroke="#bbb" stroke-width="0.6"/>
<line x1="753" y1="656" x2="790" y2="656" stroke="#bbb" stroke-width="0.6"/>
<text x="774.5" y="688" font-family="Liberation Sans, sans-serif" font-size="11.2" font-weight="bold" fill="#111" text-anchor="middle" textLength="57" lengthAdjust="spacingAndGlyphs" stroke="#111" stroke-width="0.31">Living room</text>
<rect x="580.2" y="662" width="32" height="38" stroke="#777" stroke-width="1.2" fill="#fff"/>
<rect x="588" y="645.5" width="15.7" height="16.5" stroke="#8a8a8a" stroke-width="0.9" fill="#fff" rx="1.5"/>
<line x1="589.5" y1="647.5" x2="589.5" y2="660.0" stroke="#aaa" stroke-width="0.7"/>
<line x1="602.2" y1="647.5" x2="602.2" y2="660.0" stroke="#aaa" stroke-width="0.7"/>
<rect x="588" y="700" width="15.7" height="15.8" stroke="#8a8a8a" stroke-width="0.9" fill="#fff" rx="1.5"/>
<line x1="589.5" y1="702" x2="589.5" y2="713.8" stroke="#aaa" stroke-width="0.7"/>
<line x1="602.2" y1="702" x2="602.2" y2="713.8" stroke="#aaa" stroke-width="0.7"/>
<rect x="563.7" y="664" width="16.5" height="17.5" stroke="#8a8a8a" stroke-width="0.9" fill="#fff" rx="1.5"/>
<line x1="565.2" y1="666" x2="565.2" y2="679.5" stroke="#aaa" stroke-width="0.7"/>
<line x1="578.7" y1="666" x2="578.7" y2="679.5" stroke="#aaa" stroke-width="0.7"/>
<rect x="563.7" y="681.5" width="16.5" height="17.5" stroke="#8a8a8a" stroke-width="0.9" fill="#fff" rx="1.5"/>
<line x1="565.2" y1="683.5" x2="565.2" y2="697.0" stroke="#aaa" stroke-width="0.7"/>
<line x1="578.7" y1="683.5" x2="578.7" y2="697.0" stroke="#aaa" stroke-width="0.7"/>
<rect x="612.2" y="664" width="15.8" height="17.5" stroke="#8a8a8a" stroke-width="0.9" fill="#fff" rx="1.5"/>
<line x1="613.7" y1="666" x2="613.7" y2="679.5" stroke="#aaa" stroke-width="0.7"/>
<line x1="626.5" y1="666" x2="626.5" y2="679.5" stroke="#aaa" stroke-width="0.7"/>
<rect x="612.2" y="681.5" width="15.8" height="17.5" stroke="#8a8a8a" stroke-width="0.9" fill="#fff" rx="1.5"/>
<line x1="613.7" y1="683.5" x2="613.7" y2="697.0" stroke="#aaa" stroke-width="0.7"/>
<line x1="626.5" y1="683.5" x2="626.5" y2="697.0" stroke="#aaa" stroke-width="0.7"/>
<text x="643.5" y="711.8" font-family="Liberation Sans, sans-serif" font-size="11.2" font-weight="bold" fill="#111" text-anchor="middle" textLength="62.5" lengthAdjust="spacingAndGlyphs" stroke="#111" stroke-width="0.31">Dining  room</text>
<line x1="647.3" y1="590" x2="647.3" y2="854" stroke="#cc6a78" stroke-width="1.35"/>
<g transform="translate(648 721.3) rotate(-90)">
<rect x="-12.3" y="-5.04" width="24.6" height="10.08" fill="#fff"/>
<text x="0" y="4.3" font-family="Liberation Sans, sans-serif" font-size="12" font-weight="bold" fill="#2222b4" text-anchor="middle" textLength="20.6" lengthAdjust="spacingAndGlyphs" stroke="#2222b4" stroke-width="0.34">6.55</text>
</g>
<line x1="557" y1="744.9" x2="694" y2="744.9" stroke="#cc6a78" stroke-width="1.35"/>
<rect x="612.85" y="740.076" width="25.3" height="10.248" fill="#fff"/>
<text x="625.5" y="749.57" font-family="Liberation Sans, sans-serif" font-size="12.2" font-weight="bold" fill="#2222b4" text-anchor="middle" textLength="21.3" lengthAdjust="spacingAndGlyphs" stroke="#2222b4" stroke-width="0.34">3.40</text>
<rect x="307.3" y="762.6" width="80" height="111" fill="url(#chev)"/>
<rect x="348.5" y="738.5" width="38.7" height="24.1" fill="url(#chev)"/>
<rect x="385" y="854" width="22.4" height="19.5" fill="url(#chev)"/>
<polygon points="307.3,762.6 348.5,762.6 348.5,738.5 387.2,738.5 387.2,813 385.7,813 385.7,854 407.4,854 407.4,873.5 307.3,873.5" stroke="#5c5cd0" stroke-width="1.1" fill="none"/>
<rect x="387.2" y="738.5" width="24.1" height="74.5" stroke="#5c5cd0" stroke-width="1.1" fill="#fff"/>
<rect x="385.7" y="813.8" width="21.7" height="39.6" stroke="#666" stroke-width="1.1" fill="#fff"/>
<line x1="386.5" y1="814" x2="386.5" y2="853" stroke="#333" stroke-width="1.8"/>
<line x1="284" y1="738.5" x2="284" y2="823" stroke="#454545" stroke-width="1.2"/>
<rect x="285.6" y="755.6" width="20.2" height="24.8" stroke="#888" stroke-width="1.6" fill="#f0f0f0"/>
<path d="M289.0 762 L291.5 759.5 L294.0 762 L291.5 764.5Z" fill="#888"/>
<path d="M297.5 762 L300 759.5 L302.5 762 L300 764.5Z" fill="#888"/>
<path d="M289.0 773 L291.5 770.5 L294.0 773 L291.5 775.5Z" fill="#888"/>
<path d="M297.5 773 L300 770.5 L302.5 773 L300 775.5Z" fill="#888"/>
<line x1="298.8" y1="738.5" x2="298.8" y2="823" stroke="#c878d8" stroke-width="1.2" stroke-dasharray="9 4"/>
<rect x="278.6" y="823" width="20.2" height="20.3" stroke="#454545" stroke-width="1.2" fill="#fff"/>
<polyline points="287.2,844 305,897.6 321.3,897.6" stroke="#454545" stroke-width="1.3" fill="none"/>
<line x1="381" y1="897.6" x2="411.3" y2="897.6" stroke="#454545" stroke-width="1.3"/>
<rect x="321.3" y="897.3" width="59.7" height="5" fill="#d878a8"/>
<line x1="297.7" y1="902.6" x2="321.3" y2="902.6" stroke="#454545" stroke-width="1.3"/>
<line x1="381" y1="902.6" x2="411" y2="902.6" stroke="#454545" stroke-width="1.3"/>
<rect x="336" y="876.6" width="32.6" height="17.1" stroke="#999" stroke-width="1" fill="#f4f4f4" rx="1.5"/>
<rect x="337.5" y="878.5" width="14" height="13" fill="#999"/>
<line x1="353" y1="879" x2="366" y2="891" stroke="#999" stroke-width="0.8"/>
<rect x="353.5" y="878.3" width="13.5" height="13.5" stroke="#999" stroke-width="0.8" fill="none"/>
<line x1="283" y1="785" x2="411" y2="785" stroke="#cc6a78" stroke-width="1.35"/>
<rect x="334.75" y="780.6759999999999" width="25.7" height="10.248" fill="#fff"/>
<text x="347.6" y="790.17" font-family="Liberation Sans, sans-serif" font-size="12.2" font-weight="bold" fill="#2222b4" text-anchor="middle" textLength="21.7" lengthAdjust="spacingAndGlyphs" stroke="#2222b4" stroke-width="0.34">3.22</text>
<line x1="323.6" y1="737.5" x2="323.6" y2="898" stroke="#cc6a78" stroke-width="1.35"/>
<g transform="translate(324 817.7) rotate(-90)">
<rect x="-12.15" y="-5.04" width="24.3" height="10.08" fill="#fff"/>
<text x="0" y="4.3" font-family="Liberation Sans, sans-serif" font-size="12" font-weight="bold" fill="#2222b4" text-anchor="middle" textLength="20.3" lengthAdjust="spacingAndGlyphs" stroke="#2222b4" stroke-width="0.34">4.00</text>
</g>
<text x="358.2" y="823.3" font-family="Liberation Sans, sans-serif" font-size="11.2" font-weight="bold" fill="#111" text-anchor="middle" textLength="36.4" lengthAdjust="spacingAndGlyphs" stroke="#111" stroke-width="0.31">Kitchen</text>
<line x1="287" y1="843.3" x2="408" y2="843.3" stroke="#cc6a78" stroke-width="1.35"/>
<rect x="334.8" y="838.576" width="25" height="10.248" fill="#fff"/>
<text x="347.3" y="848.07" font-family="Liberation Sans, sans-serif" font-size="12.2" font-weight="bold" fill="#2222b4" text-anchor="middle" textLength="21" lengthAdjust="spacingAndGlyphs" stroke="#2222b4" stroke-width="0.34">3.04</text>
<line x1="411" y1="735.5" x2="411" y2="902.3" stroke="#454545" stroke-width="1.3"/>
<line x1="413.2" y1="738" x2="413.2" y2="851" stroke="#454545" stroke-width="1.0"/>
<rect x="415" y="738.4" width="29" height="29.1" stroke="#777" stroke-width="1" fill="#fff" rx="2"/>
<rect x="417" y="741.4" width="10.149999999999999" height="23.1" stroke="#888" stroke-width="0.8" fill="#fff"/>
<path d="M428.05 745.675 Q432.98 752.9499999999999 428.05 760.225" stroke="#888" stroke-width="0.8" fill="none"/>
<rect x="415" y="770.4" width="29" height="29.1" stroke="#777" stroke-width="1" fill="#fff" rx="2"/>
<rect x="417" y="773.4" width="10.149999999999999" height="23.1" stroke="#888" stroke-width="0.8" fill="#fff"/>
<path d="M428.05 777.675 Q432.98 784.9499999999999 428.05 792.225" stroke="#888" stroke-width="0.8" fill="none"/>
<rect x="424.6" y="752" width="100.9" height="82.4" stroke="#707070" stroke-width="1.5" fill="none" stroke-dasharray="1.2 1.3"/>
<ellipse cx="478.45" cy="784.0" rx="17.95" ry="9.7" stroke="#555" stroke-width="1" fill="#fff"/>
<line x1="460.45" y1="792.7" x2="468.45" y2="775.3" stroke="#666" stroke-width="0.8"/>
<line x1="467.45" y1="792.7" x2="475.45" y2="775.3" stroke="#666" stroke-width="0.8"/>
<line x1="474.45" y1="792.7" x2="482.45" y2="775.3" stroke="#666" stroke-width="0.8"/>
<line x1="481.45" y1="792.7" x2="489.45" y2="775.3" stroke="#666" stroke-width="0.8"/>
<line x1="488.45" y1="792.7" x2="496.45" y2="775.3" stroke="#666" stroke-width="0.8"/>
<circle cx="482.8" cy="763.6" r="3.9" stroke="#888" stroke-width="0.9" fill="none"/>
<circle cx="451.4" cy="781" r="3.5" stroke="#888" stroke-width="0.9" fill="none"/>
<circle cx="499.9" cy="801.5" r="3" stroke="#888" stroke-width="0.9" fill="none"/>
<rect x="441" y="808.3" width="71" height="28.1" stroke="#777" stroke-width="1" fill="#fff" rx="3"/>
<rect x="444" y="830.4" width="65" height="5" stroke="#888" stroke-width="0.8" fill="#fff" rx="1.5"/>
<line x1="465.6666666666667" y1="811.3" x2="465.6666666666667" y2="830.4" stroke="#888" stroke-width="0.8"/>
<line x1="487.3333333333333" y1="811.3" x2="487.3333333333333" y2="830.4" stroke="#888" stroke-width="0.8"/>
<line x1="444" y1="811.3" x2="444" y2="830.4" stroke="#888" stroke-width="0.8"/>
<line x1="509" y1="811.3" x2="509" y2="830.4" stroke="#888" stroke-width="0.8"/>
<circle cx="432.4" cy="815" r="5.5" stroke="#777" stroke-width="1" fill="#fff"/>
<circle cx="432.4" cy="815" r="3.0250000000000004" stroke="#888" stroke-width="0.8" fill="none"/>
<line x1="428.0" y1="815" x2="436.79999999999995" y2="815" stroke="#888" stroke-width="0.7"/>
<line x1="432.4" y1="810.6" x2="432.4" y2="819.4" stroke="#888" stroke-width="0.7"/>
<circle cx="523.5" cy="820" r="10" stroke="#777" stroke-width="1" fill="#fff"/>
<circle cx="523.5" cy="820" r="5.5" stroke="#888" stroke-width="0.8" fill="none"/>
<line x1="515.5" y1="820" x2="531.5" y2="820" stroke="#888" stroke-width="0.7"/>
<line x1="523.5" y1="812.0" x2="523.5" y2="828.0" stroke="#888" stroke-width="0.7"/>
<rect x="542" y="754" width="6.8" height="63" stroke="#888" stroke-width="1" fill="#fff" rx="3"/>
<line x1="545.4" y1="757" x2="545.4" y2="814" stroke="#aaa" stroke-width="0.7"/>
<text x="468.3" y="805.5" font-family="Liberation Sans, sans-serif" font-size="11.2" font-weight="bold" fill="#111" text-anchor="middle" textLength="42.6" lengthAdjust="spacingAndGlyphs" stroke="#111" stroke-width="0.31">TV room</text>
<polyline points="424,838.3 526,838.3" stroke="#c878d8" stroke-width="1.2" fill="none" stroke-dasharray="9 4"/>
<line x1="539" y1="726" x2="539" y2="811" stroke="#c878d8" stroke-width="1.2" stroke-dasharray="9 4"/>
<rect x="538" y="824.8" width="19.5" height="27" stroke="#454545" stroke-width="1.2" fill="#fff"/>
<line x1="550.7" y1="590" x2="550.7" y2="825" stroke="#454545" stroke-width="1.3"/>
<rect x="412.5" y="856.5" width="138" height="45.5" fill="url(#trass)"/>
<rect x="411" y="851" width="10.7" height="6" stroke="#454545" stroke-width="1" fill="#fff"/>
<rect x="531.3" y="851" width="7" height="6" stroke="#454545" stroke-width="1" fill="#fff"/>
<rect x="421.7" y="852.6" width="109.6" height="2.6" fill="#f08888"/>
<line x1="412" y1="856.5" x2="550.7" y2="856.5" stroke="#454545" stroke-width="1"/>
<line x1="411" y1="898.5" x2="551" y2="898.5" stroke="#4a4ad0" stroke-width="1"/>
<line x1="411" y1="902.6" x2="857" y2="902.6" stroke="#4a4ad0" stroke-width="1.4"/>
<line x1="412" y1="867.4" x2="551" y2="867.4" stroke="#cc6a78" stroke-width="1.35"/>
<rect x="469.15000000000003" y="863.276" width="25.3" height="10.248" fill="#fff"/>
<text x="481.8" y="872.77" font-family="Liberation Sans, sans-serif" font-size="12.2" font-weight="bold" fill="#2222b4" text-anchor="middle" textLength="21.3" lengthAdjust="spacingAndGlyphs" stroke="#2222b4" stroke-width="0.34">3.49</text>
<line x1="433.3" y1="856" x2="433.3" y2="903" stroke="#cc6a78" stroke-width="1.35"/>
<g transform="translate(433.8 880) rotate(-90)">
<rect x="-12.25" y="-5.04" width="24.5" height="10.08" fill="#fff"/>
<text x="0" y="4.3" font-family="Liberation Sans, sans-serif" font-size="12" font-weight="bold" fill="#2222b4" text-anchor="middle" textLength="20.5" lengthAdjust="spacingAndGlyphs" stroke="#2222b4" stroke-width="0.34">1.16</text>
</g>
<text x="476.5" y="885.9" font-family="Liberation Sans, sans-serif" font-size="11.2" font-weight="bold" fill="#111" text-anchor="middle" textLength="26.2" lengthAdjust="spacingAndGlyphs" stroke="#111" stroke-width="0.31">Trass</text>
<line x1="451.8" y1="738" x2="451.8" y2="852" stroke="#cc6a78" stroke-width="1.35"/>
<rect x="550.7" y="855" width="6.8" height="47" stroke="#454545" stroke-width="1" fill="#fff"/>
<rect x="659.3" y="741" width="28.1" height="29" stroke="#777" stroke-width="1" fill="#fff" rx="2"/>
<rect x="675.5649999999999" y="744" width="9.834999999999999" height="23" stroke="#888" stroke-width="0.8" fill="#fff"/>
<path d="M674.755 748.25 Q669.978 755.5 674.755 762.75" stroke="#888" stroke-width="0.8" fill="none"/>
<rect x="659.3" y="772.4" width="28.1" height="29.1" stroke="#777" stroke-width="1" fill="#fff" rx="2"/>
<rect x="675.5649999999999" y="775.4" width="9.834999999999999" height="23.1" stroke="#888" stroke-width="0.8" fill="#fff"/>
<path d="M674.755 779.675 Q669.978 786.9499999999999 674.755 794.225" stroke="#888" stroke-width="0.8" fill="none"/>
<rect x="577.8" y="753" width="101.9" height="83.4" stroke="#707070" stroke-width="1.5" fill="none" stroke-dasharray="1.2 1.3"/>
<ellipse cx="623.9" cy="785.5" rx="17.9" ry="9.2" stroke="#555" stroke-width="1" fill="#fff"/>
<line x1="605.9" y1="793.7" x2="613.9" y2="777.3" stroke="#666" stroke-width="0.8"/>
<line x1="612.9" y1="793.7" x2="620.9" y2="777.3" stroke="#666" stroke-width="0.8"/>
<line x1="619.9" y1="793.7" x2="627.9" y2="777.3" stroke="#666" stroke-width="0.8"/>
<line x1="626.9" y1="793.7" x2="634.9" y2="777.3" stroke="#666" stroke-width="0.8"/>
<line x1="633.9" y1="793.7" x2="641.9" y2="777.3" stroke="#666" stroke-width="0.8"/>
<circle cx="619.5" cy="765.6" r="3.9" stroke="#888" stroke-width="0.9" fill="none"/>
<circle cx="651.5" cy="782.5" r="3.5" stroke="#888" stroke-width="0.9" fill="none"/>
<circle cx="603" cy="803.4" r="3" stroke="#888" stroke-width="0.9" fill="none"/>
<rect x="591.4" y="809.6" width="69.8" height="27.8" stroke="#777" stroke-width="1" fill="#fff" rx="3"/>
<rect x="594.4" y="831.4" width="63.8" height="5" stroke="#888" stroke-width="0.8" fill="#fff" rx="1.5"/>
<line x1="615.6666666666666" y1="812.6" x2="615.6666666666666" y2="831.4" stroke="#888" stroke-width="0.8"/>
<line x1="636.9333333333333" y1="812.6" x2="636.9333333333333" y2="831.4" stroke="#888" stroke-width="0.8"/>
<line x1="594.4" y1="812.6" x2="594.4" y2="831.4" stroke="#888" stroke-width="0.8"/>
<line x1="658.1999999999999" y1="812.6" x2="658.1999999999999" y2="831.4" stroke="#888" stroke-width="0.8"/>
<circle cx="579.8" cy="821.8" r="10" stroke="#777" stroke-width="1" fill="#fff"/>
<circle cx="579.8" cy="821.8" r="5.5" stroke="#888" stroke-width="0.8" fill="none"/>
<line x1="571.8" y1="821.8" x2="587.8" y2="821.8" stroke="#888" stroke-width="0.7"/>
<line x1="579.8" y1="813.8" x2="579.8" y2="829.8" stroke="#888" stroke-width="0.7"/>
<circle cx="669.6" cy="817" r="5.5" stroke="#777" stroke-width="1" fill="#fff"/>
<circle cx="669.6" cy="817" r="3.0250000000000004" stroke="#888" stroke-width="0.8" fill="none"/>
<line x1="665.2" y1="817" x2="674.0" y2="817" stroke="#888" stroke-width="0.7"/>
<line x1="669.6" y1="812.6" x2="669.6" y2="821.4" stroke="#888" stroke-width="0.7"/>
<rect x="561" y="753" width="7.1" height="64" stroke="#888" stroke-width="1" fill="#fff" rx="3"/>
<line x1="564.5" y1="756" x2="564.5" y2="814" stroke="#aaa" stroke-width="0.7"/>
<text x="633.6" y="806.3" font-family="Liberation Sans, sans-serif" font-size="11.2" font-weight="bold" fill="#111" text-anchor="middle" textLength="41.8" lengthAdjust="spacingAndGlyphs" stroke="#111" stroke-width="0.31">TV room</text>
<rect x="569" y="739.4" width="112.6" height="98.9" stroke="#c878d8" stroke-width="1.2" fill="none" stroke-dasharray="9 4"/>
<line x1="691.3" y1="745" x2="691.3" y2="902" stroke="#454545" stroke-width="1.2"/>
<line x1="693.2" y1="745" x2="693.2" y2="902" stroke="#454545" stroke-width="1.3"/>
<rect x="557.5" y="856.5" width="134" height="45.5" fill="url(#trass2)"/>
<rect x="557.5" y="851" width="18.4" height="5.8" stroke="#454545" stroke-width="1" fill="#fff"/>
<rect x="683.5" y="851" width="9.7" height="5.8" stroke="#454545" stroke-width="1" fill="#fff"/>
<rect x="575.9" y="852.6" width="107.6" height="2.6" fill="#f08888"/>
<line x1="557.5" y1="856.5" x2="691.3" y2="856.5" stroke="#454545" stroke-width="1"/>
<line x1="557.5" y1="898.5" x2="691.3" y2="898.5" stroke="#4a4ad0" stroke-width="1"/>
<line x1="557" y1="867.4" x2="691" y2="867.4" stroke="#cc6a78" stroke-width="1.35"/>
<rect x="619.5500000000001" y="862.876" width="25.3" height="10.248" fill="#fff"/>
<text x="632.2" y="872.37" font-family="Liberation Sans, sans-serif" font-size="12.2" font-weight="bold" fill="#2222b4" text-anchor="middle" textLength="21.3" lengthAdjust="spacingAndGlyphs" stroke="#2222b4" stroke-width="0.34">3.37</text>
<line x1="678.7" y1="856" x2="678.7" y2="903" stroke="#cc6a78" stroke-width="1.35"/>
<g transform="translate(680.2 880) rotate(-90)">
<rect x="-12.25" y="-5.04" width="24.5" height="10.08" fill="#fff"/>
<text x="0" y="4.3" font-family="Liberation Sans, sans-serif" font-size="12" font-weight="bold" fill="#2222b4" text-anchor="middle" textLength="20.5" lengthAdjust="spacingAndGlyphs" stroke="#2222b4" stroke-width="0.34">1.16</text>
</g>
<text x="625.9" y="886" font-family="Liberation Sans, sans-serif" font-size="11.2" font-weight="bold" fill="#111" text-anchor="middle" textLength="26.3" lengthAdjust="spacingAndGlyphs" stroke="#111" stroke-width="0.31">Trass</text>
<rect x="717.3" y="751" width="107.7" height="121.6" fill="url(#chev)"/>
<polyline points="717.3,751 761,751 761,774.4 825,774.4 825,872.6 697,872.6" stroke="#5c5cd0" stroke-width="1.1" fill="none"/>
<rect x="693.9" y="751" width="23.4" height="74.6" stroke="#5c5cd0" stroke-width="1.1" fill="#fff"/>
<rect x="698" y="828.8" width="22.5" height="39.5" stroke="#666" stroke-width="1.1" fill="#fff"/>
<line x1="719.5" y1="829" x2="719.5" y2="868" stroke="#333" stroke-width="1.8"/>
<rect x="761" y="751" width="87.6" height="23.4" stroke="#5c5cd0" stroke-width="1.1" fill="#fff"/>
<rect x="827.2" y="790.4" width="18.2" height="29.9" stroke="#888" stroke-width="1.6" fill="#f0f0f0"/>
<rect x="829.5" y="793.5" width="5" height="5" stroke="#888" stroke-width="0.8" fill="none"/>
<rect x="838.0" y="793.5" width="5" height="5" stroke="#888" stroke-width="0.8" fill="none"/>
<rect x="829.5" y="812.0" width="5" height="5" stroke="#888" stroke-width="0.8" fill="none"/>
<rect x="838.0" y="812.0" width="5" height="5" stroke="#888" stroke-width="0.8" fill="none"/>
<rect x="831" y="803" width="11" height="5" fill="#999"/>
<rect x="836.8" y="823.5" width="19.2" height="20.3" stroke="#454545" stroke-width="1.2" fill="#fff"/>
<circle cx="770.7" cy="822.4" r="16" stroke="#777" stroke-width="1.1" fill="#fff"/>
<rect x="764.2" y="792.4" width="13" height="12" rx="1.5" stroke="#888" stroke-width="0.9" fill="#fff" transform="rotate(0 770.7 798.4)"/>
<rect x="785.0" y="804.4" width="13" height="12" rx="1.5" stroke="#888" stroke-width="0.9" fill="#fff" transform="rotate(60 791.5 810.4)"/>
<rect x="785.0" y="828.4" width="13" height="12" rx="1.5" stroke="#888" stroke-width="0.9" fill="#fff" transform="rotate(120 791.5 834.4)"/>
<rect x="743.4" y="828.4" width="13" height="12" rx="1.5" stroke="#888" stroke-width="0.9" fill="#fff" transform="rotate(240 749.9 834.4)"/>
<rect x="743.4" y="804.4" width="13" height="12" rx="1.5" stroke="#888" stroke-width="0.9" fill="#fff" transform="rotate(300 749.9 810.4)"/>
<line x1="693" y1="780.4" x2="848" y2="780.4" stroke="#cc6a78" stroke-width="1.35"/>
<rect x="758.0500000000001" y="775.576" width="25.3" height="10.248" fill="#fff"/>
<text x="770.7" y="785.07" font-family="Liberation Sans, sans-serif" font-size="12.2" font-weight="bold" fill="#2222b4" text-anchor="middle" textLength="21.3" lengthAdjust="spacingAndGlyphs" stroke="#2222b4" stroke-width="0.34">3.90</text>
<line x1="725.5" y1="751" x2="725.5" y2="897" stroke="#cc6a78" stroke-width="1.35"/>
<g transform="translate(727 823.5) rotate(-90)">
<rect x="-12.5" y="-5.04" width="25" height="10.08" fill="#fff"/>
<text x="0" y="4.3" font-family="Liberation Sans, sans-serif" font-size="12" font-weight="bold" fill="#2222b4" text-anchor="middle" textLength="21" lengthAdjust="spacingAndGlyphs" stroke="#2222b4" stroke-width="0.34">3.70</text>
</g>
<text x="773.9" y="865" font-family="Liberation Sans, sans-serif" font-size="11.2" font-weight="bold" fill="#111" text-anchor="middle" textLength="36.2" lengthAdjust="spacingAndGlyphs" stroke="#111" stroke-width="0.31">Kitchen</text>
<rect x="753.6" y="878" width="38.4" height="17" stroke="#999" stroke-width="1" fill="#f4f4f4" rx="1.5"/>
<rect x="777" y="879.5" width="13" height="14" fill="#999"/>
<line x1="757" y1="892" x2="770" y2="880" stroke="#999" stroke-width="0.8"/>
<line x1="836.8" y1="751" x2="836.8" y2="897" stroke="#c878d8" stroke-width="1.2" stroke-dasharray="9 4"/>
<line x1="848.6" y1="751" x2="848.6" y2="823.5" stroke="#454545" stroke-width="1.3"/>
<line x1="693.2" y1="897" x2="733.4" y2="897" stroke="#454545" stroke-width="1.3"/>
<line x1="813.4" y1="897" x2="856" y2="897" stroke="#454545" stroke-width="1.3"/>
<rect x="733.4" y="897" width="80" height="5.5" fill="#d878a8"/>
<line x1="693.2" y1="903.5" x2="733.4" y2="903.5" stroke="#454545" stroke-width="1.3"/>
<line x1="813.4" y1="903.5" x2="856" y2="903.5" stroke="#454545" stroke-width="1.3"/>
<line x1="539.8" y1="904" x2="539.8" y2="1072" stroke="#3c3cb8" stroke-width="1.1"/>
<line x1="540.5" y1="1072" x2="856.8" y2="1121" stroke="#3c3cb8" stroke-width="1.1"/>
<line x1="856.8" y1="904" x2="856.8" y2="1121" stroke="#3c3cb8" stroke-width="1.1"/>
<line x1="359.6" y1="1052.8" x2="858.5" y2="1130.7" stroke="#e05050" stroke-width="1.1"/>
<circle cx="359.6" cy="1052.8" r="1.3" fill="#b02020"/><circle cx="858.5" cy="1130.7" r="1.6" fill="#b02020"/>
<g transform="translate(609 1091.8) rotate(8.87)">
<rect x="-15.5" y="-5.124" width="31" height="10.248" fill="#fff"/>
<text x="0" y="4.37" font-family="Liberation Sans, sans-serif" font-size="12.2" font-weight="bold" fill="#2222b4" text-anchor="middle" textLength="27" lengthAdjust="spacingAndGlyphs" stroke="#2222b4" stroke-width="0.34">12.63</text>
</g>
<polyline points="372.5,1043.4 375.9,1040.3 378.1,1044.3 381.4,1041.2 383.6,1045.2 387.0,1042.1 389.2,1046.1 392.5,1043.0 394.7,1047.0 398.1,1043.9 400.3,1047.9 403.7,1044.8 405.9,1048.8 409.2,1045.7 411.4,1049.7 414.8,1046.6 417.0,1050.6 420.3,1047.5 422.5,1051.5 425.9,1048.4 428.1,1052.4 431.4,1049.3 433.6,1053.4 437.0,1050.2 439.2,1054.3 442.6,1051.1 444.8,1055.2 448.1,1052.0 450.3,1056.1 453.7,1052.9 455.9,1057.0 459.2,1053.8 461.4,1057.9 464.8,1054.7 467.0,1058.8 470.3,1055.6 472.5,1059.7 475.9,1056.5 478.1,1060.6 481.5,1057.4 483.7,1061.5 487.0,1058.3 489.2,1062.4" stroke="#e04040" stroke-width="1" fill="none"/>
<rect x="491" y="1057.5" width="6" height="8.5" stroke="#3c3cb8" stroke-width="1" fill="#fff" transform="rotate(9 494 1061.7)"/>
<line x1="497.3" y1="1060" x2="535.7" y2="1066.3" stroke="#e04040" stroke-width="0.9"/>
<line x1="497.3" y1="1062.2" x2="535.7" y2="1068.5" stroke="#e04040" stroke-width="0.9"/>
<rect x="535.5" y="1064" width="5" height="8" stroke="#3c3cb8" stroke-width="1" fill="#fff"/>
<text x="449.2" y="1027.8" font-family="Liberation Sans, sans-serif" font-size="14" font-weight="bold" fill="#111" text-anchor="middle" direction="ltr" unicode-bidi="bidi-override" style="direction:ltr;unicode-bidi:bidi-override" textLength="92" lengthAdjust="spacingAndGlyphs">درپ □ر□ه ای</text>
<polyline points="401,1045 412.7,1034.6 502,1034.6" stroke="#555" stroke-width="0.9" fill="none"/>
<circle cx="680.5" cy="999.4" r="10.8" stroke="#d43030" stroke-width="1.4" fill="none"/>
<line x1="661.3" y1="999.4" x2="732.8" y2="999.4" stroke="#d43030" stroke-width="1.1"/>
<line x1="680.5" y1="983" x2="680.5" y2="1018" stroke="#d43030" stroke-width="1.1"/>
<text x="692.7" y="997" font-family="Liberation Sans, sans-serif" font-size="14.2" font-weight="bold" fill="#d42020" text-anchor="start" textLength="34.9" lengthAdjust="spacingAndGlyphs" stroke="#d42020" stroke-width="0.40">+4.00</text>
<line x1="858.8" y1="290" x2="858.8" y2="900" stroke="#c878d8" stroke-width="1.2" stroke-dasharray="9 4"/>
<line x1="867.5" y1="288" x2="867.5" y2="1121" stroke="#cc6a78" stroke-width="1.35"/>
<line x1="877.5" y1="288" x2="877.5" y2="1121" stroke="#cc6a78" stroke-width="1.35"/>
<line x1="888.2" y1="288" x2="888.2" y2="1121" stroke="#cc6a78" stroke-width="1.35"/>
<circle cx="867.5" cy="1121" r="1.2" fill="#b02020"/>
<circle cx="877.5" cy="1121" r="1.2" fill="#b02020"/>
<circle cx="888.2" cy="1121" r="1.2" fill="#b02020"/>
<g transform="translate(868.0 565.7) rotate(-90)">
<rect x="-14.85" y="-5.04" width="29.7" height="10.08" fill="#fff"/>
<text x="0" y="4.3" font-family="Liberation Sans, sans-serif" font-size="12" font-weight="bold" fill="#2222b4" text-anchor="middle" textLength="25.7" lengthAdjust="spacingAndGlyphs" stroke="#2222b4" stroke-width="0.34">13.92</text>
</g>
<g transform="translate(877.7 596) rotate(-90)">
<rect x="-15.5" y="-5.04" width="31" height="10.08" fill="#fff"/>
<text x="0" y="4.3" font-family="Liberation Sans, sans-serif" font-size="12" font-weight="bold" fill="#2222b4" text-anchor="middle" textLength="27" lengthAdjust="spacingAndGlyphs" stroke="#2222b4" stroke-width="0.34">15.42</text>
</g>
<g transform="translate(888.3 705.5) rotate(-90)">
<rect x="-15.75" y="-5.04" width="31.5" height="10.08" fill="#fff"/>
<text x="0" y="4.3" font-family="Liberation Sans, sans-serif" font-size="12" font-weight="bold" fill="#2222b4" text-anchor="middle" textLength="27.5" lengthAdjust="spacingAndGlyphs" stroke="#2222b4" stroke-width="0.34">20.90</text>
</g>
<g transform="translate(869.3 873) rotate(-90)">
<rect x="-12.25" y="-5.04" width="24.5" height="10.08" fill="#fff"/>
<text x="0" y="4.3" font-family="Liberation Sans, sans-serif" font-size="12" font-weight="bold" fill="#2222b4" text-anchor="middle" textLength="20.5" lengthAdjust="spacingAndGlyphs" stroke="#2222b4" stroke-width="0.34">1.50</text>
</g>
<g transform="translate(867.5 1012.5) rotate(-90)">
<rect x="-13.0" y="-5.04" width="26" height="10.08" fill="#fff"/>
<text x="0" y="4.3" font-family="Liberation Sans, sans-serif" font-size="12" font-weight="bold" fill="#2222b4" text-anchor="middle" textLength="22" lengthAdjust="spacingAndGlyphs" stroke="#2222b4" stroke-width="0.34">5.48</text>
</g>
<g transform="translate(877.4 1012.5) rotate(-90)">
<rect x="-13.0" y="-5.04" width="26" height="10.08" fill="#fff"/>
<text x="0" y="4.3" font-family="Liberation Sans, sans-serif" font-size="12" font-weight="bold" fill="#2222b4" text-anchor="middle" textLength="22" lengthAdjust="spacingAndGlyphs" stroke="#2222b4" stroke-width="0.34">5.48</text>
</g>
<text x="860.3" y="842.7" font-family="Liberation Sans, sans-serif" font-size="12" font-weight="bold" fill="#111" text-anchor="start" textLength="20.3" lengthAdjust="spacingAndGlyphs" stroke="#111" stroke-width="0.34">%60</text>
<line x1="858" y1="843.8" x2="886" y2="843.8" stroke="#555" stroke-width="1"/>
<text x="856" y="901.4" font-family="Liberation Sans, sans-serif" font-size="12" font-weight="bold" fill="#111" text-anchor="start" textLength="44" lengthAdjust="spacingAndGlyphs" stroke="#111" stroke-width="0.34">%60+1.5</text>
<text x="243.8" y="795.5" font-family="Liberation Sans, sans-serif" font-size="12" font-weight="bold" fill="#111" text-anchor="start" textLength="21.4" lengthAdjust="spacingAndGlyphs" stroke="#111" stroke-width="0.34">%60</text>
<line x1="242" y1="797.3" x2="269" y2="797.3" stroke="#555" stroke-width="1"/>
<line x1="257.4" y1="797.5" x2="257.4" y2="857.6" stroke="#cc6a78" stroke-width="1.35"/>
<g transform="translate(256.8 827.5) rotate(-90)">
<rect x="-12.25" y="-5.04" width="24.5" height="10.08" fill="#fff"/>
<text x="0" y="4.3" font-family="Liberation Sans, sans-serif" font-size="12" font-weight="bold" fill="#2222b4" text-anchor="middle" textLength="20.5" lengthAdjust="spacingAndGlyphs" stroke="#2222b4" stroke-width="0.34">1.50</text>
</g>
<text x="232" y="855.6" font-family="Liberation Sans, sans-serif" font-size="12" font-weight="bold" fill="#111" text-anchor="start" textLength="43" lengthAdjust="spacingAndGlyphs" stroke="#111" stroke-width="0.34">%60+1.5</text>
<line x1="228.3" y1="857.4" x2="279.7" y2="857.4" stroke="#555" stroke-width="1"/>
<g transform="translate(194.5 464.6) rotate(80.4)">
<rect x="-15.5" y="-5.04" width="31" height="10.08" fill="#fff"/>
<text x="0" y="4.3" font-family="Liberation Sans, sans-serif" font-size="12" font-weight="bold" fill="#2222b4" text-anchor="middle" textLength="27" lengthAdjust="spacingAndGlyphs" stroke="#2222b4" stroke-width="0.34">10.12</text>
</g>
<g transform="translate(221.5 684) rotate(52)">
<rect x="-12.25" y="-5.04" width="24.5" height="10.08" fill="#fff"/>
<text x="0" y="4.3" font-family="Liberation Sans, sans-serif" font-size="12" font-weight="bold" fill="#2222b4" text-anchor="middle" textLength="20.5" lengthAdjust="spacingAndGlyphs" stroke="#2222b4" stroke-width="0.34">0.44</text>
</g>
<g transform="translate(251.5 738) rotate(79)">
<rect x="-12.5" y="-5.04" width="25" height="10.08" fill="#fff"/>
<text x="0" y="4.3" font-family="Liberation Sans, sans-serif" font-size="12" font-weight="bold" fill="#2222b4" text-anchor="middle" textLength="21" lengthAdjust="spacingAndGlyphs" stroke="#2222b4" stroke-width="0.34">3.05</text>
</g>
<g transform="translate(284.4 904.8) rotate(72.7)">
<rect x="-12.5" y="-5.04" width="25" height="10.08" fill="#fff"/>
<text x="0" y="4.3" font-family="Liberation Sans, sans-serif" font-size="12" font-weight="bold" fill="#2222b4" text-anchor="middle" textLength="21" lengthAdjust="spacingAndGlyphs" stroke="#2222b4" stroke-width="0.34">2.42</text>
</g>
<g transform="translate(320.4 988) rotate(57.6)">
<rect x="-12.5" y="-5.04" width="25" height="10.08" fill="#fff"/>
<text x="0" y="4.3" font-family="Liberation Sans, sans-serif" font-size="12" font-weight="bold" fill="#2222b4" text-anchor="middle" textLength="21" lengthAdjust="spacingAndGlyphs" stroke="#2222b4" stroke-width="0.34">1.96</text>
</g>
<g transform="translate(346 1033.6) rotate(72.5)">
<rect x="-12.0" y="-5.04" width="24" height="10.08" fill="#fff"/>
<text x="0" y="4.3" font-family="Liberation Sans, sans-serif" font-size="12" font-weight="bold" fill="#2222b4" text-anchor="middle" textLength="20" lengthAdjust="spacingAndGlyphs" stroke="#2222b4" stroke-width="0.34">0.81</text>
</g>
<text x="189.9" y="536.3" font-family="Liberation Sans, sans-serif" font-size="20" font-weight="bold" fill="#c81818" text-anchor="middle" transform="rotate(180 189.9 536.3)" textLength="11.6" lengthAdjust="spacingAndGlyphs" stroke="#c81818" stroke-width="0.56">B</text>
<line x1="173.2" y1="555.6" x2="188" y2="555.6" stroke="#888" stroke-width="1.1"/>
<line x1="201" y1="555.6" x2="215" y2="555.6" stroke="#888" stroke-width="1.1"/>
<line x1="882.6" y1="555.7" x2="897.4" y2="555.7" stroke="#888" stroke-width="1"/>
<polygon points="178.2,558.6 203.6,558.6 190.9,582.2" stroke="#d86070" stroke-width="1.6" fill="none"/>
<polygon points="182.3,561 199.5,561 190.9,577" stroke="#f0a0b0" stroke-width="1.1" fill="none"/>
<text x="883.7" y="536.8" font-family="Liberation Sans, sans-serif" font-size="20" font-weight="bold" fill="#d01818" text-anchor="middle" transform="rotate(180 883.7 536.8)" textLength="11" lengthAdjust="spacingAndGlyphs" stroke="#d01818" stroke-width="0.56">B</text>
<polygon points="873.3,560.4 898.4,560.4 885.1,582.3" stroke="#d86070" stroke-width="1.6" fill="none"/>
<polygon points="877.4,562.8 894.3,562.8 885.1,577.2" stroke="#f0a0b0" stroke-width="1.1" fill="none"/>
<text x="157" y="433.5" font-family="Liberation Sans, sans-serif" font-size="14.5" font-weight="bold" fill="#111" text-anchor="middle" direction="ltr" unicode-bidi="bidi-override" style="direction:ltr;unicode-bidi:bidi-override" textLength="71" lengthAdjust="spacingAndGlyphs">درز انقطاع</text>
<polyline points="125,439 196,439 202,444" stroke="#555" stroke-width="0.9" fill="none"/>
<text x="395.5" y="264.2" font-family="Liberation Sans, sans-serif" font-size="11.5" font-weight="bold" fill="#111" text-anchor="middle" textLength="122" lengthAdjust="spacingAndGlyphs" stroke="#111" stroke-width="0.32">رتم ویتناس 25 ضرع مب روت</text>
<polyline points="349.5,267.2 470.7,268.6 481.4,277.5" stroke="#555" stroke-width="0.9" fill="none"/>
<text x="359.4" y="1200.3" font-family="Liberation Sans, sans-serif" font-size="11" font-weight="bold" fill="#111" text-anchor="middle" direction="ltr" unicode-bidi="bidi-override" style="direction:ltr;unicode-bidi:bidi-override" textLength="67.5" lengthAdjust="spacingAndGlyphs">پلان طبقه 1 و 2</text>
<text x="468.8" y="1201.4" font-family="Liberation Sans, sans-serif" font-size="13" font-weight="bold" fill="#111" text-anchor="middle" direction="ltr" unicode-bidi="bidi-override" style="direction:ltr;unicode-bidi:bidi-override" textLength="84" lengthAdjust="spacingAndGlyphs">آقای اسماعیلیان</text>
</svg></body></html>
